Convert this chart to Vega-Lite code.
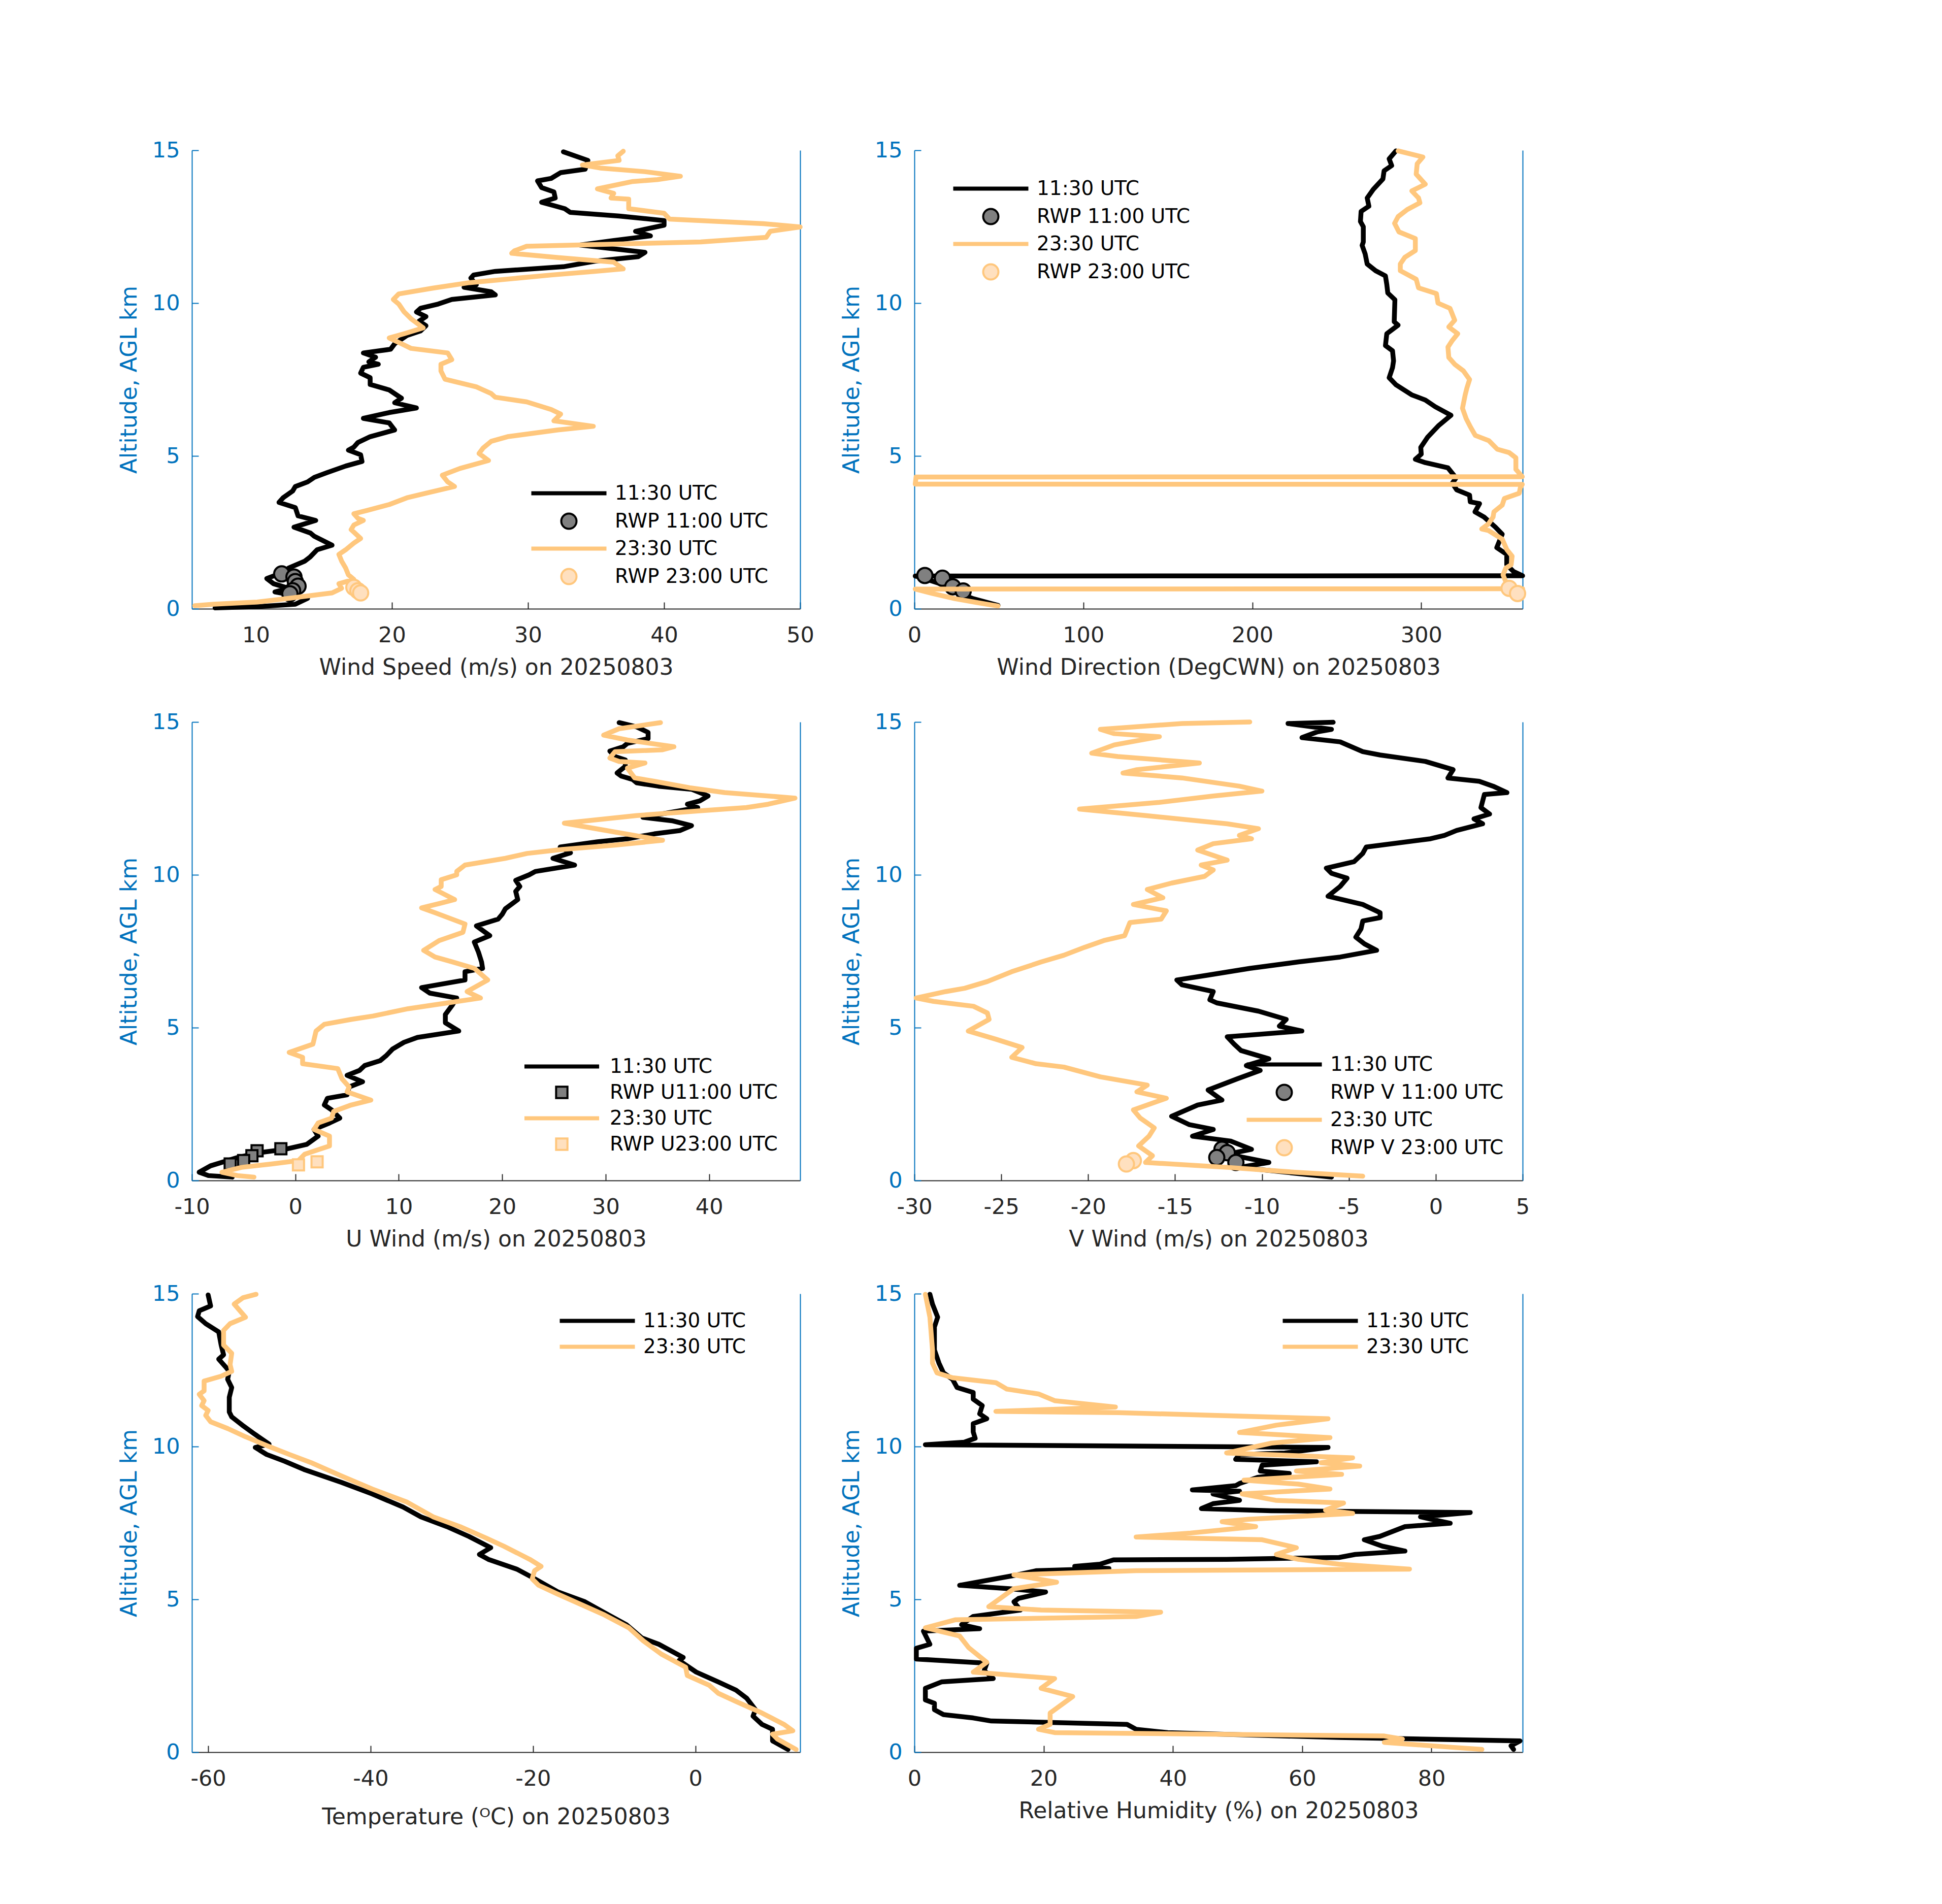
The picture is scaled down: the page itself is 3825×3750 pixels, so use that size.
{
  "$schema": "https://vega.github.io/schema/vega-lite/v6.json",
  "background": "white",
  "padding": {"left": 233, "top": 275, "right": 0, "bottom": 0},
  "config": {
    "font": "DejaVu Sans",
    "view": {"stroke": null},
    "axis": {"grid": false, "labelFont": "DejaVu Sans", "titleFont": "DejaVu Sans", "labelFontSize": 43, "titleFontSize": 44, "titleFontWeight": "normal", "tickSize": -13, "tickWidth": 2, "domainWidth": 2, "labelFlush": false, "labelOverlap": false},
    "axisX": {"domainColor": "#262626", "tickColor": "#262626", "labelColor": "#262626", "titleColor": "#262626", "labelPadding": 44, "titlePadding": 20, "labelExpr": "'' + datum.value"},
    "axisY": {"domainColor": "#0072BD", "tickColor": "#0072BD", "labelColor": "#0072BD", "titleColor": "#0072BD", "labelPadding": 37, "titlePadding": 22},
    "legend": {"labelFont": "DejaVu Sans", "labelFontSize": 39, "labelColor": "#000000", "labelLimit": 1000}
  },
  "datasets": {
    "ws": [
      {"s": "11:30 UTC", "v": 7.0, "h": 0.03}, {"s": "11:30 UTC", "v": 10.1, "h": 0.07}, {"s": "11:30 UTC", "v": 12.9, "h": 0.15}, {"s": "11:30 UTC", "v": 13.8, "h": 0.34}, {"s": "11:30 UTC", "v": 12.8, "h": 0.44}, {"s": "11:30 UTC", "v": 11.4, "h": 0.55}, {"s": "11:30 UTC", "v": 12.4, "h": 0.67}, {"s": "11:30 UTC", "v": 11.3, "h": 0.82}, {"s": "11:30 UTC", "v": 10.8, "h": 0.99}, {"s": "11:30 UTC", "v": 12.0, "h": 1.19}, {"s": "11:30 UTC", "v": 12.4, "h": 1.33}, {"s": "11:30 UTC", "v": 13.6, "h": 1.56}, {"s": "11:30 UTC", "v": 14.0, "h": 1.70}, {"s": "11:30 UTC", "v": 14.5, "h": 1.93}, {"s": "11:30 UTC", "v": 15.6, "h": 2.08}, {"s": "11:30 UTC", "v": 14.3, "h": 2.37}, {"s": "11:30 UTC", "v": 14.0, "h": 2.48}, {"s": "11:30 UTC", "v": 12.8, "h": 2.67}, {"s": "11:30 UTC", "v": 14.4, "h": 2.89}, {"s": "11:30 UTC", "v": 13.1, "h": 3.04}, {"s": "11:30 UTC", "v": 12.9, "h": 3.31}, {"s": "11:30 UTC", "v": 11.7, "h": 3.48}, {"s": "11:30 UTC", "v": 12.0, "h": 3.63}, {"s": "11:30 UTC", "v": 12.7, "h": 3.85}, {"s": "11:30 UTC", "v": 12.9, "h": 4.00}, {"s": "11:30 UTC", "v": 13.8, "h": 4.15}, {"s": "11:30 UTC", "v": 14.3, "h": 4.30}, {"s": "11:30 UTC", "v": 15.2, "h": 4.45}, {"s": "11:30 UTC", "v": 16.6, "h": 4.67}, {"s": "11:30 UTC", "v": 17.8, "h": 4.82}, {"s": "11:30 UTC", "v": 17.7, "h": 5.04}, {"s": "11:30 UTC", "v": 16.8, "h": 5.19}, {"s": "11:30 UTC", "v": 17.2, "h": 5.29}, {"s": "11:30 UTC", "v": 17.5, "h": 5.44}, {"s": "11:30 UTC", "v": 18.4, "h": 5.63}, {"s": "11:30 UTC", "v": 20.2, "h": 5.85}, {"s": "11:30 UTC", "v": 19.8, "h": 6.08}, {"s": "11:30 UTC", "v": 17.9, "h": 6.23}, {"s": "11:30 UTC", "v": 19.8, "h": 6.42}, {"s": "11:30 UTC", "v": 21.8, "h": 6.57}, {"s": "11:30 UTC", "v": 20.2, "h": 6.74}, {"s": "11:30 UTC", "v": 20.7, "h": 6.89}, {"s": "11:30 UTC", "v": 20.2, "h": 7.04}, {"s": "11:30 UTC", "v": 19.8, "h": 7.16}, {"s": "11:30 UTC", "v": 18.4, "h": 7.34}, {"s": "11:30 UTC", "v": 18.4, "h": 7.56}, {"s": "11:30 UTC", "v": 17.7, "h": 7.71}, {"s": "11:30 UTC", "v": 17.9, "h": 7.90}, {"s": "11:30 UTC", "v": 19.0, "h": 8.00}, {"s": "11:30 UTC", "v": 18.3, "h": 8.08}, {"s": "11:30 UTC", "v": 18.8, "h": 8.23}, {"s": "11:30 UTC", "v": 17.9, "h": 8.37}, {"s": "11:30 UTC", "v": 19.9, "h": 8.49}, {"s": "11:30 UTC", "v": 20.2, "h": 8.67}, {"s": "11:30 UTC", "v": 21.1, "h": 8.94}, {"s": "11:30 UTC", "v": 22.1, "h": 9.09}, {"s": "11:30 UTC", "v": 22.5, "h": 9.26}, {"s": "11:30 UTC", "v": 22.0, "h": 9.41}, {"s": "11:30 UTC", "v": 22.5, "h": 9.56}, {"s": "11:30 UTC", "v": 21.8, "h": 9.71}, {"s": "11:30 UTC", "v": 22.1, "h": 9.83}, {"s": "11:30 UTC", "v": 23.4, "h": 9.97}, {"s": "11:30 UTC", "v": 24.4, "h": 10.12}, {"s": "11:30 UTC", "v": 27.6, "h": 10.27}, {"s": "11:30 UTC", "v": 27.3, "h": 10.37}, {"s": "11:30 UTC", "v": 25.3, "h": 10.52}, {"s": "11:30 UTC", "v": 26.2, "h": 10.60}, {"s": "11:30 UTC", "v": 25.8, "h": 10.82}, {"s": "11:30 UTC", "v": 26.0, "h": 10.92}, {"s": "11:30 UTC", "v": 27.6, "h": 11.04}, {"s": "11:30 UTC", "v": 32.6, "h": 11.19}, {"s": "11:30 UTC", "v": 34.9, "h": 11.37}, {"s": "11:30 UTC", "v": 38.1, "h": 11.52}, {"s": "11:30 UTC", "v": 38.6, "h": 11.66}, {"s": "11:30 UTC", "v": 33.8, "h": 11.90}, {"s": "11:30 UTC", "v": 36.3, "h": 12.05}, {"s": "11:30 UTC", "v": 39.0, "h": 12.20}, {"s": "11:30 UTC", "v": 37.9, "h": 12.35}, {"s": "11:30 UTC", "v": 40.0, "h": 12.55}, {"s": "11:30 UTC", "v": 40.0, "h": 12.70}, {"s": "11:30 UTC", "v": 36.7, "h": 12.85}, {"s": "11:30 UTC", "v": 33.1, "h": 12.97}, {"s": "11:30 UTC", "v": 32.7, "h": 13.09}, {"s": "11:30 UTC", "v": 31.9, "h": 13.19}, {"s": "11:30 UTC", "v": 31.0, "h": 13.30}, {"s": "11:30 UTC", "v": 32.0, "h": 13.44}, {"s": "11:30 UTC", "v": 31.9, "h": 13.64}, {"s": "11:30 UTC", "v": 31.0, "h": 13.78}, {"s": "11:30 UTC", "v": 30.7, "h": 14.00}, {"s": "11:30 UTC", "v": 31.7, "h": 14.08}, {"s": "11:30 UTC", "v": 32.4, "h": 14.27}, {"s": "11:30 UTC", "v": 34.2, "h": 14.38}, {"s": "11:30 UTC", "v": 34.4, "h": 14.67}, {"s": "11:30 UTC", "v": 32.6, "h": 14.95},
      {"s": "RWP 11:00 UTC", "v": 11.9, "h": 1.14}, {"s": "RWP 11:00 UTC", "v": 12.8, "h": 1.04}, {"s": "RWP 11:00 UTC", "v": 12.9, "h": 0.89}, {"s": "RWP 11:00 UTC", "v": 13.1, "h": 0.74}, {"s": "RWP 11:00 UTC", "v": 12.7, "h": 0.59}, {"s": "RWP 11:00 UTC", "v": 12.5, "h": 0.49},
      {"s": "23:30 UTC", "v": 5.5, "h": 0.10}, {"s": "23:30 UTC", "v": 6.9, "h": 0.15}, {"s": "23:30 UTC", "v": 10.1, "h": 0.22}, {"s": "23:30 UTC", "v": 12.4, "h": 0.34}, {"s": "23:30 UTC", "v": 15.6, "h": 0.52}, {"s": "23:30 UTC", "v": 16.3, "h": 0.67}, {"s": "23:30 UTC", "v": 16.1, "h": 0.82}, {"s": "23:30 UTC", "v": 17.2, "h": 0.96}, {"s": "23:30 UTC", "v": 16.8, "h": 1.11}, {"s": "23:30 UTC", "v": 16.6, "h": 1.33}, {"s": "23:30 UTC", "v": 16.3, "h": 1.56}, {"s": "23:30 UTC", "v": 16.1, "h": 1.78}, {"s": "23:30 UTC", "v": 16.6, "h": 1.93}, {"s": "23:30 UTC", "v": 17.2, "h": 2.15}, {"s": "23:30 UTC", "v": 17.7, "h": 2.30}, {"s": "23:30 UTC", "v": 17.0, "h": 2.59}, {"s": "23:30 UTC", "v": 17.2, "h": 2.74}, {"s": "23:30 UTC", "v": 17.9, "h": 2.89}, {"s": "23:30 UTC", "v": 17.5, "h": 2.96}, {"s": "23:30 UTC", "v": 17.2, "h": 3.11}, {"s": "23:30 UTC", "v": 18.2, "h": 3.22}, {"s": "23:30 UTC", "v": 19.8, "h": 3.41}, {"s": "23:30 UTC", "v": 21.1, "h": 3.63}, {"s": "23:30 UTC", "v": 22.5, "h": 3.78}, {"s": "23:30 UTC", "v": 24.6, "h": 4.00}, {"s": "23:30 UTC", "v": 24.1, "h": 4.15}, {"s": "23:30 UTC", "v": 23.7, "h": 4.37}, {"s": "23:30 UTC", "v": 25.0, "h": 4.59}, {"s": "23:30 UTC", "v": 27.1, "h": 4.85}, {"s": "23:30 UTC", "v": 26.4, "h": 5.08}, {"s": "23:30 UTC", "v": 26.7, "h": 5.26}, {"s": "23:30 UTC", "v": 27.3, "h": 5.48}, {"s": "23:30 UTC", "v": 28.5, "h": 5.63}, {"s": "23:30 UTC", "v": 32.2, "h": 5.85}, {"s": "23:30 UTC", "v": 34.8, "h": 5.97}, {"s": "23:30 UTC", "v": 31.9, "h": 6.15}, {"s": "23:30 UTC", "v": 32.4, "h": 6.37}, {"s": "23:30 UTC", "v": 31.7, "h": 6.52}, {"s": "23:30 UTC", "v": 29.9, "h": 6.77}, {"s": "23:30 UTC", "v": 27.6, "h": 6.92}, {"s": "23:30 UTC", "v": 27.3, "h": 7.04}, {"s": "23:30 UTC", "v": 26.2, "h": 7.26}, {"s": "23:30 UTC", "v": 23.9, "h": 7.51}, {"s": "23:30 UTC", "v": 23.6, "h": 7.78}, {"s": "23:30 UTC", "v": 23.6, "h": 8.00}, {"s": "23:30 UTC", "v": 24.4, "h": 8.15}, {"s": "23:30 UTC", "v": 24.1, "h": 8.37}, {"s": "23:30 UTC", "v": 21.4, "h": 8.52}, {"s": "23:30 UTC", "v": 20.7, "h": 8.67}, {"s": "23:30 UTC", "v": 19.8, "h": 8.86}, {"s": "23:30 UTC", "v": 20.9, "h": 9.00}, {"s": "23:30 UTC", "v": 22.3, "h": 9.19}, {"s": "23:30 UTC", "v": 21.4, "h": 9.49}, {"s": "23:30 UTC", "v": 20.9, "h": 9.71}, {"s": "23:30 UTC", "v": 20.5, "h": 9.97}, {"s": "23:30 UTC", "v": 20.1, "h": 10.12}, {"s": "23:30 UTC", "v": 20.5, "h": 10.30}, {"s": "23:30 UTC", "v": 23.0, "h": 10.49}, {"s": "23:30 UTC", "v": 25.7, "h": 10.67}, {"s": "23:30 UTC", "v": 31.7, "h": 10.92}, {"s": "23:30 UTC", "v": 34.9, "h": 11.04}, {"s": "23:30 UTC", "v": 37.0, "h": 11.12}, {"s": "23:30 UTC", "v": 36.3, "h": 11.34}, {"s": "23:30 UTC", "v": 32.2, "h": 11.49}, {"s": "23:30 UTC", "v": 28.8, "h": 11.63}, {"s": "23:30 UTC", "v": 29.0, "h": 11.71}, {"s": "23:30 UTC", "v": 29.9, "h": 11.86}, {"s": "23:30 UTC", "v": 42.7, "h": 12.00}, {"s": "23:30 UTC", "v": 47.5, "h": 12.15}, {"s": "23:30 UTC", "v": 47.8, "h": 12.35}, {"s": "23:30 UTC", "v": 50.0, "h": 12.49}, {"s": "23:30 UTC", "v": 47.3, "h": 12.60}, {"s": "23:30 UTC", "v": 40.4, "h": 12.75}, {"s": "23:30 UTC", "v": 40.0, "h": 12.94}, {"s": "23:30 UTC", "v": 37.4, "h": 13.09}, {"s": "23:30 UTC", "v": 37.4, "h": 13.40}, {"s": "23:30 UTC", "v": 36.1, "h": 13.44}, {"s": "23:30 UTC", "v": 36.3, "h": 13.59}, {"s": "23:30 UTC", "v": 35.1, "h": 13.74}, {"s": "23:30 UTC", "v": 37.7, "h": 13.98}, {"s": "23:30 UTC", "v": 39.5, "h": 14.04}, {"s": "23:30 UTC", "v": 41.2, "h": 14.15}, {"s": "23:30 UTC", "v": 38.6, "h": 14.30}, {"s": "23:30 UTC", "v": 35.3, "h": 14.42}, {"s": "23:30 UTC", "v": 34.0, "h": 14.52}, {"s": "23:30 UTC", "v": 36.7, "h": 14.67}, {"s": "23:30 UTC", "v": 36.6, "h": 14.82}, {"s": "23:30 UTC", "v": 37.0, "h": 14.97},
      {"s": "RWP 23:00 UTC", "v": 17.2, "h": 0.70}, {"s": "RWP 23:00 UTC", "v": 17.5, "h": 0.59}, {"s": "RWP 23:00 UTC", "v": 17.7, "h": 0.52}
    ],
    "wd": [
      {"s": "11:30 UTC", "v": 49.5, "h": 0.11}, {"s": "11:30 UTC", "v": 34.8, "h": 0.33}, {"s": "11:30 UTC", "v": 24.0, "h": 0.56}, {"s": "11:30 UTC", "v": 14.7, "h": 0.83}, {"s": "11:30 UTC", "v": 3.0, "h": 1.04}, {"s": "11:30 UTC", "v": 0.5, "h": 1.07}, {"s": "11:30 UTC", "v": 360, "h": 1.08}, {"s": "11:30 UTC", "v": 354.6, "h": 1.22}, {"s": "11:30 UTC", "v": 350.6, "h": 1.44}, {"s": "11:30 UTC", "v": 350.6, "h": 1.78}, {"s": "11:30 UTC", "v": 344.7, "h": 2.00}, {"s": "11:30 UTC", "v": 347.9, "h": 2.44}, {"s": "11:30 UTC", "v": 343.9, "h": 2.67}, {"s": "11:30 UTC", "v": 337.2, "h": 3.00}, {"s": "11:30 UTC", "v": 331.8, "h": 3.17}, {"s": "11:30 UTC", "v": 334.5, "h": 3.44}, {"s": "11:30 UTC", "v": 329.0, "h": 3.50}, {"s": "11:30 UTC", "v": 328.6, "h": 3.72}, {"s": "11:30 UTC", "v": 321.0, "h": 3.89}, {"s": "11:30 UTC", "v": 318.4, "h": 4.11}, {"s": "11:30 UTC", "v": 320.6, "h": 4.28}, {"s": "11:30 UTC", "v": 315.8, "h": 4.61}, {"s": "11:30 UTC", "v": 302.4, "h": 4.78}, {"s": "11:30 UTC", "v": 296.5, "h": 4.89}, {"s": "11:30 UTC", "v": 300.0, "h": 5.06}, {"s": "11:30 UTC", "v": 299.7, "h": 5.28}, {"s": "11:30 UTC", "v": 303.7, "h": 5.61}, {"s": "11:30 UTC", "v": 310.4, "h": 6.00}, {"s": "11:30 UTC", "v": 317.6, "h": 6.33}, {"s": "11:30 UTC", "v": 308.3, "h": 6.61}, {"s": "11:30 UTC", "v": 302.4, "h": 6.83}, {"s": "11:30 UTC", "v": 294.3, "h": 7.00}, {"s": "11:30 UTC", "v": 285.0, "h": 7.33}, {"s": "11:30 UTC", "v": 281.0, "h": 7.56}, {"s": "11:30 UTC", "v": 283.0, "h": 7.89}, {"s": "11:30 UTC", "v": 283.6, "h": 8.11}, {"s": "11:30 UTC", "v": 283.0, "h": 8.44}, {"s": "11:30 UTC", "v": 278.8, "h": 8.61}, {"s": "11:30 UTC", "v": 279.6, "h": 9.00}, {"s": "11:30 UTC", "v": 286.3, "h": 9.28}, {"s": "11:30 UTC", "v": 284.0, "h": 9.39}, {"s": "11:30 UTC", "v": 284.4, "h": 10.11}, {"s": "11:30 UTC", "v": 280.2, "h": 10.33}, {"s": "11:30 UTC", "v": 279.6, "h": 10.61}, {"s": "11:30 UTC", "v": 278.8, "h": 10.89}, {"s": "11:30 UTC", "v": 273.0, "h": 11.06}, {"s": "11:30 UTC", "v": 268.0, "h": 11.28}, {"s": "11:30 UTC", "v": 266.8, "h": 11.61}, {"s": "11:30 UTC", "v": 265.0, "h": 11.89}, {"s": "11:30 UTC", "v": 265.7, "h": 12.00}, {"s": "11:30 UTC", "v": 265.7, "h": 12.50}, {"s": "11:30 UTC", "v": 264.0, "h": 12.67}, {"s": "11:30 UTC", "v": 264.4, "h": 13.00}, {"s": "11:30 UTC", "v": 269.0, "h": 13.17}, {"s": "11:30 UTC", "v": 268.0, "h": 13.44}, {"s": "11:30 UTC", "v": 271.6, "h": 13.72}, {"s": "11:30 UTC", "v": 277.3, "h": 14.06}, {"s": "11:30 UTC", "v": 278.0, "h": 14.33}, {"s": "11:30 UTC", "v": 282.5, "h": 14.50}, {"s": "11:30 UTC", "v": 281.0, "h": 14.72}, {"s": "11:30 UTC", "v": 285.0, "h": 14.98},
      {"s": "RWP 11:00 UTC", "v": 6.2, "h": 1.09}, {"s": "RWP 11:00 UTC", "v": 16.6, "h": 1.00}, {"s": "RWP 11:00 UTC", "v": 22.7, "h": 0.72}, {"s": "RWP 11:00 UTC", "v": 28.9, "h": 0.58},
      {"s": "23:30 UTC", "v": 49.5, "h": 0.09}, {"s": "23:30 UTC", "v": 37.5, "h": 0.20}, {"s": "23:30 UTC", "v": 24.0, "h": 0.33}, {"s": "23:30 UTC", "v": 10.7, "h": 0.50}, {"s": "23:30 UTC", "v": 0.5, "h": 0.645}, {"s": "23:30 UTC", "v": 360, "h": 0.655}, {"s": "23:30 UTC", "v": 353.2, "h": 0.72}, {"s": "23:30 UTC", "v": 350.0, "h": 0.89}, {"s": "23:30 UTC", "v": 348.4, "h": 1.11}, {"s": "23:30 UTC", "v": 350.0, "h": 1.33}, {"s": "23:30 UTC", "v": 353.2, "h": 1.44}, {"s": "23:30 UTC", "v": 353.8, "h": 1.72}, {"s": "23:30 UTC", "v": 350.6, "h": 1.94}, {"s": "23:30 UTC", "v": 347.9, "h": 2.28}, {"s": "23:30 UTC", "v": 339.8, "h": 2.56}, {"s": "23:30 UTC", "v": 335.8, "h": 2.61}, {"s": "23:30 UTC", "v": 339.8, "h": 2.78}, {"s": "23:30 UTC", "v": 342.5, "h": 3.00}, {"s": "23:30 UTC", "v": 343.0, "h": 3.17}, {"s": "23:30 UTC", "v": 347.9, "h": 3.39}, {"s": "23:30 UTC", "v": 349.2, "h": 3.61}, {"s": "23:30 UTC", "v": 358.0, "h": 3.78}, {"s": "23:30 UTC", "v": 358.6, "h": 3.95}, {"s": "23:30 UTC", "v": 359.8, "h": 4.07}, {"s": "23:30 UTC", "v": 0.5, "h": 4.08}, {"s": "23:30 UTC", "v": 1.0, "h": 4.31}, {"s": "23:30 UTC", "v": 359.8, "h": 4.32}, {"s": "23:30 UTC", "v": 356.0, "h": 4.56}, {"s": "23:30 UTC", "v": 356.0, "h": 4.94}, {"s": "23:30 UTC", "v": 352.0, "h": 5.11}, {"s": "23:30 UTC", "v": 345.0, "h": 5.22}, {"s": "23:30 UTC", "v": 340.0, "h": 5.50}, {"s": "23:30 UTC", "v": 332.0, "h": 5.67}, {"s": "23:30 UTC", "v": 329.2, "h": 5.94}, {"s": "23:30 UTC", "v": 326.6, "h": 6.22}, {"s": "23:30 UTC", "v": 324.4, "h": 6.56}, {"s": "23:30 UTC", "v": 326.0, "h": 7.00}, {"s": "23:30 UTC", "v": 327.0, "h": 7.22}, {"s": "23:30 UTC", "v": 328.6, "h": 7.50}, {"s": "23:30 UTC", "v": 325.0, "h": 7.78}, {"s": "23:30 UTC", "v": 319.8, "h": 8.00}, {"s": "23:30 UTC", "v": 316.3, "h": 8.22}, {"s": "23:30 UTC", "v": 315.8, "h": 8.56}, {"s": "23:30 UTC", "v": 318.4, "h": 8.78}, {"s": "23:30 UTC", "v": 321.6, "h": 9.00}, {"s": "23:30 UTC", "v": 316.3, "h": 9.22}, {"s": "23:30 UTC", "v": 319.8, "h": 9.44}, {"s": "23:30 UTC", "v": 317.0, "h": 9.83}, {"s": "23:30 UTC", "v": 309.9, "h": 10.00}, {"s": "23:30 UTC", "v": 309.0, "h": 10.31}, {"s": "23:30 UTC", "v": 298.4, "h": 10.50}, {"s": "23:30 UTC", "v": 297.0, "h": 10.78}, {"s": "23:30 UTC", "v": 287.6, "h": 11.06}, {"s": "23:30 UTC", "v": 287.6, "h": 11.28}, {"s": "23:30 UTC", "v": 290.3, "h": 11.50}, {"s": "23:30 UTC", "v": 296.5, "h": 11.72}, {"s": "23:30 UTC", "v": 296.5, "h": 12.11}, {"s": "23:30 UTC", "v": 286.8, "h": 12.33}, {"s": "23:30 UTC", "v": 284.2, "h": 12.61}, {"s": "23:30 UTC", "v": 286.3, "h": 12.83}, {"s": "23:30 UTC", "v": 291.7, "h": 13.06}, {"s": "23:30 UTC", "v": 299.2, "h": 13.28}, {"s": "23:30 UTC", "v": 298.4, "h": 13.44}, {"s": "23:30 UTC", "v": 294.4, "h": 13.67}, {"s": "23:30 UTC", "v": 302.4, "h": 13.89}, {"s": "23:30 UTC", "v": 297.0, "h": 14.22}, {"s": "23:30 UTC", "v": 297.6, "h": 14.56}, {"s": "23:30 UTC", "v": 301.0, "h": 14.78}, {"s": "23:30 UTC", "v": 286.3, "h": 14.98},
      {"s": "RWP 23:00 UTC", "v": 352.0, "h": 0.67}, {"s": "RWP 23:00 UTC", "v": 357.0, "h": 0.50}
    ],
    "u": [
      {"s": "11:30 UTC", "v": -6.1, "h": 0.11}, {"s": "11:30 UTC", "v": -8.4, "h": 0.16}, {"s": "11:30 UTC", "v": -9.3, "h": 0.27}, {"s": "11:30 UTC", "v": -8.2, "h": 0.48}, {"s": "11:30 UTC", "v": -5.6, "h": 0.75}, {"s": "11:30 UTC", "v": -3.5, "h": 0.91}, {"s": "11:30 UTC", "v": -1.0, "h": 1.02}, {"s": "11:30 UTC", "v": 1.1, "h": 1.18}, {"s": "11:30 UTC", "v": 2.2, "h": 1.45}, {"s": "11:30 UTC", "v": 1.8, "h": 1.67}, {"s": "11:30 UTC", "v": 3.3, "h": 1.88}, {"s": "11:30 UTC", "v": 4.3, "h": 2.04}, {"s": "11:30 UTC", "v": 3.5, "h": 2.31}, {"s": "11:30 UTC", "v": 2.8, "h": 2.47}, {"s": "11:30 UTC", "v": 3.1, "h": 2.69}, {"s": "11:30 UTC", "v": 5.0, "h": 2.80}, {"s": "11:30 UTC", "v": 5.2, "h": 3.06}, {"s": "11:30 UTC", "v": 6.5, "h": 3.23}, {"s": "11:30 UTC", "v": 5.0, "h": 3.44}, {"s": "11:30 UTC", "v": 6.2, "h": 3.60}, {"s": "11:30 UTC", "v": 6.7, "h": 3.76}, {"s": "11:30 UTC", "v": 8.2, "h": 3.92}, {"s": "11:30 UTC", "v": 8.8, "h": 4.09}, {"s": "11:30 UTC", "v": 9.4, "h": 4.30}, {"s": "11:30 UTC", "v": 10.5, "h": 4.52}, {"s": "11:30 UTC", "v": 11.8, "h": 4.68}, {"s": "11:30 UTC", "v": 15.8, "h": 4.89}, {"s": "11:30 UTC", "v": 14.5, "h": 5.16}, {"s": "11:30 UTC", "v": 14.5, "h": 5.43}, {"s": "11:30 UTC", "v": 15.2, "h": 5.75}, {"s": "11:30 UTC", "v": 15.6, "h": 5.97}, {"s": "11:30 UTC", "v": 13.0, "h": 6.13}, {"s": "11:30 UTC", "v": 12.2, "h": 6.31}, {"s": "11:30 UTC", "v": 16.4, "h": 6.56}, {"s": "11:30 UTC", "v": 16.4, "h": 6.83}, {"s": "11:30 UTC", "v": 18.1, "h": 6.94}, {"s": "11:30 UTC", "v": 18.0, "h": 7.15}, {"s": "11:30 UTC", "v": 17.7, "h": 7.47}, {"s": "11:30 UTC", "v": 17.3, "h": 7.80}, {"s": "11:30 UTC", "v": 18.8, "h": 8.01}, {"s": "11:30 UTC", "v": 17.5, "h": 8.33}, {"s": "11:30 UTC", "v": 19.6, "h": 8.55}, {"s": "11:30 UTC", "v": 20.0, "h": 8.71}, {"s": "11:30 UTC", "v": 20.3, "h": 8.89}, {"s": "11:30 UTC", "v": 21.5, "h": 9.19}, {"s": "11:30 UTC", "v": 21.3, "h": 9.46}, {"s": "11:30 UTC", "v": 21.7, "h": 9.62}, {"s": "11:30 UTC", "v": 21.3, "h": 9.82}, {"s": "11:30 UTC", "v": 22.6, "h": 10.00}, {"s": "11:30 UTC", "v": 23.2, "h": 10.11}, {"s": "11:30 UTC", "v": 27.0, "h": 10.32}, {"s": "11:30 UTC", "v": 24.9, "h": 10.54}, {"s": "11:30 UTC", "v": 26.6, "h": 10.72}, {"s": "11:30 UTC", "v": 25.6, "h": 10.91}, {"s": "11:30 UTC", "v": 29.2, "h": 11.08}, {"s": "11:30 UTC", "v": 32.1, "h": 11.18}, {"s": "11:30 UTC", "v": 34.7, "h": 11.34}, {"s": "11:30 UTC", "v": 37.2, "h": 11.45}, {"s": "11:30 UTC", "v": 38.3, "h": 11.61}, {"s": "11:30 UTC", "v": 36.4, "h": 11.77}, {"s": "11:30 UTC", "v": 33.6, "h": 11.88}, {"s": "11:30 UTC", "v": 37.2, "h": 12.10}, {"s": "11:30 UTC", "v": 38.9, "h": 12.20}, {"s": "11:30 UTC", "v": 37.9, "h": 12.31}, {"s": "11:30 UTC", "v": 39.1, "h": 12.42}, {"s": "11:30 UTC", "v": 39.9, "h": 12.58}, {"s": "11:30 UTC", "v": 38.3, "h": 12.80}, {"s": "11:30 UTC", "v": 35.1, "h": 12.90}, {"s": "11:30 UTC", "v": 33.0, "h": 13.01}, {"s": "11:30 UTC", "v": 32.6, "h": 13.12}, {"s": "11:30 UTC", "v": 31.5, "h": 13.23}, {"s": "11:30 UTC", "v": 31.1, "h": 13.33}, {"s": "11:30 UTC", "v": 31.9, "h": 13.55}, {"s": "11:30 UTC", "v": 31.9, "h": 13.76}, {"s": "11:30 UTC", "v": 30.9, "h": 13.87}, {"s": "11:30 UTC", "v": 30.4, "h": 14.05}, {"s": "11:30 UTC", "v": 31.7, "h": 14.19}, {"s": "11:30 UTC", "v": 32.1, "h": 14.30}, {"s": "11:30 UTC", "v": 34.1, "h": 14.46}, {"s": "11:30 UTC", "v": 34.1, "h": 14.66}, {"s": "11:30 UTC", "v": 33.0, "h": 14.84}, {"s": "11:30 UTC", "v": 31.3, "h": 14.98},
      {"s": "RWP U11:00 UTC", "v": -1.4, "h": 1.04}, {"s": "RWP U11:00 UTC", "v": -3.7, "h": 0.97}, {"s": "RWP U11:00 UTC", "v": -4.2, "h": 0.81}, {"s": "RWP U11:00 UTC", "v": -5.0, "h": 0.65}, {"s": "RWP U11:00 UTC", "v": -6.3, "h": 0.54},
      {"s": "23:30 UTC", "v": -4.0, "h": 0.11}, {"s": "23:30 UTC", "v": -5.6, "h": 0.16}, {"s": "23:30 UTC", "v": -7.1, "h": 0.27}, {"s": "23:30 UTC", "v": -5.2, "h": 0.43}, {"s": "23:30 UTC", "v": -2.3, "h": 0.54}, {"s": "23:30 UTC", "v": 0.3, "h": 0.65}, {"s": "23:30 UTC", "v": 0.9, "h": 0.86}, {"s": "23:30 UTC", "v": 3.3, "h": 1.13}, {"s": "23:30 UTC", "v": 3.3, "h": 1.45}, {"s": "23:30 UTC", "v": 1.8, "h": 1.67}, {"s": "23:30 UTC", "v": 2.2, "h": 1.88}, {"s": "23:30 UTC", "v": 3.5, "h": 2.04}, {"s": "23:30 UTC", "v": 3.7, "h": 2.26}, {"s": "23:30 UTC", "v": 5.4, "h": 2.47}, {"s": "23:30 UTC", "v": 7.3, "h": 2.63}, {"s": "23:30 UTC", "v": 5.0, "h": 2.90}, {"s": "23:30 UTC", "v": 5.2, "h": 3.06}, {"s": "23:30 UTC", "v": 4.5, "h": 3.33}, {"s": "23:30 UTC", "v": 4.1, "h": 3.66}, {"s": "23:30 UTC", "v": 0.7, "h": 3.82}, {"s": "23:30 UTC", "v": 0.7, "h": 4.03}, {"s": "23:30 UTC", "v": -0.6, "h": 4.19}, {"s": "23:30 UTC", "v": 1.7, "h": 4.46}, {"s": "23:30 UTC", "v": 2.0, "h": 4.89}, {"s": "23:30 UTC", "v": 2.8, "h": 5.11}, {"s": "23:30 UTC", "v": 5.4, "h": 5.27}, {"s": "23:30 UTC", "v": 7.5, "h": 5.38}, {"s": "23:30 UTC", "v": 10.9, "h": 5.62}, {"s": "23:30 UTC", "v": 14.7, "h": 5.81}, {"s": "23:30 UTC", "v": 17.9, "h": 5.97}, {"s": "23:30 UTC", "v": 16.6, "h": 6.18}, {"s": "23:30 UTC", "v": 18.6, "h": 6.56}, {"s": "23:30 UTC", "v": 17.3, "h": 6.94}, {"s": "23:30 UTC", "v": 15.2, "h": 7.15}, {"s": "23:30 UTC", "v": 13.5, "h": 7.31}, {"s": "23:30 UTC", "v": 12.4, "h": 7.53}, {"s": "23:30 UTC", "v": 13.9, "h": 7.85}, {"s": "23:30 UTC", "v": 16.2, "h": 8.12}, {"s": "23:30 UTC", "v": 16.4, "h": 8.39}, {"s": "23:30 UTC", "v": 13.5, "h": 8.76}, {"s": "23:30 UTC", "v": 12.2, "h": 8.92}, {"s": "23:30 UTC", "v": 13.9, "h": 9.06}, {"s": "23:30 UTC", "v": 15.4, "h": 9.19}, {"s": "23:30 UTC", "v": 13.5, "h": 9.52}, {"s": "23:30 UTC", "v": 14.1, "h": 9.62}, {"s": "23:30 UTC", "v": 14.1, "h": 9.84}, {"s": "23:30 UTC", "v": 15.6, "h": 10.00}, {"s": "23:30 UTC", "v": 15.6, "h": 10.11}, {"s": "23:30 UTC", "v": 16.4, "h": 10.32}, {"s": "23:30 UTC", "v": 20.3, "h": 10.54}, {"s": "23:30 UTC", "v": 22.4, "h": 10.70}, {"s": "23:30 UTC", "v": 25.8, "h": 10.83}, {"s": "23:30 UTC", "v": 30.9, "h": 10.97}, {"s": "23:30 UTC", "v": 35.5, "h": 11.13}, {"s": "23:30 UTC", "v": 30.9, "h": 11.40}, {"s": "23:30 UTC", "v": 26.0, "h": 11.69}, {"s": "23:30 UTC", "v": 33.0, "h": 11.94}, {"s": "23:30 UTC", "v": 39.4, "h": 12.10}, {"s": "23:30 UTC", "v": 43.6, "h": 12.20}, {"s": "23:30 UTC", "v": 45.7, "h": 12.31}, {"s": "23:30 UTC", "v": 48.3, "h": 12.51}, {"s": "23:30 UTC", "v": 41.5, "h": 12.69}, {"s": "23:30 UTC", "v": 38.1, "h": 12.85}, {"s": "23:30 UTC", "v": 34.7, "h": 13.06}, {"s": "23:30 UTC", "v": 32.8, "h": 13.17}, {"s": "23:30 UTC", "v": 32.1, "h": 13.49}, {"s": "23:30 UTC", "v": 33.8, "h": 13.66}, {"s": "23:30 UTC", "v": 31.3, "h": 13.71}, {"s": "23:30 UTC", "v": 30.4, "h": 13.82}, {"s": "23:30 UTC", "v": 30.9, "h": 14.03}, {"s": "23:30 UTC", "v": 35.5, "h": 14.09}, {"s": "23:30 UTC", "v": 36.6, "h": 14.19}, {"s": "23:30 UTC", "v": 32.1, "h": 14.41}, {"s": "23:30 UTC", "v": 29.8, "h": 14.57}, {"s": "23:30 UTC", "v": 31.3, "h": 14.78}, {"s": "23:30 UTC", "v": 35.3, "h": 14.98},
      {"s": "RWP U23:00 UTC", "v": 0.3, "h": 0.51}, {"s": "RWP U23:00 UTC", "v": 2.1, "h": 0.61}
    ],
    "vw": [
      {"s": "11:30 UTC", "v": -6.0, "h": 0.11}, {"s": "11:30 UTC", "v": -11.3, "h": 0.43}, {"s": "11:30 UTC", "v": -9.6, "h": 0.59}, {"s": "11:30 UTC", "v": -12.0, "h": 0.86}, {"s": "11:30 UTC", "v": -10.6, "h": 1.02}, {"s": "11:30 UTC", "v": -11.8, "h": 1.29}, {"s": "11:30 UTC", "v": -14.0, "h": 1.45}, {"s": "11:30 UTC", "v": -12.8, "h": 1.67}, {"s": "11:30 UTC", "v": -14.2, "h": 1.83}, {"s": "11:30 UTC", "v": -15.2, "h": 2.10}, {"s": "11:30 UTC", "v": -13.7, "h": 2.47}, {"s": "11:30 UTC", "v": -12.3, "h": 2.63}, {"s": "11:30 UTC", "v": -13.1, "h": 2.96}, {"s": "11:30 UTC", "v": -11.4, "h": 3.33}, {"s": "11:30 UTC", "v": -10.1, "h": 3.60}, {"s": "11:30 UTC", "v": -10.9, "h": 3.76}, {"s": "11:30 UTC", "v": -9.6, "h": 3.98}, {"s": "11:30 UTC", "v": -11.2, "h": 4.25}, {"s": "11:30 UTC", "v": -11.6, "h": 4.46}, {"s": "11:30 UTC", "v": -12.0, "h": 4.70}, {"s": "11:30 UTC", "v": -7.7, "h": 4.89}, {"s": "11:30 UTC", "v": -9.0, "h": 5.05}, {"s": "11:30 UTC", "v": -8.6, "h": 5.27}, {"s": "11:30 UTC", "v": -10.2, "h": 5.54}, {"s": "11:30 UTC", "v": -12.6, "h": 5.81}, {"s": "11:30 UTC", "v": -13.0, "h": 5.91}, {"s": "11:30 UTC", "v": -12.8, "h": 6.18}, {"s": "11:30 UTC", "v": -14.6, "h": 6.40}, {"s": "11:30 UTC", "v": -14.9, "h": 6.56}, {"s": "11:30 UTC", "v": -13.1, "h": 6.72}, {"s": "11:30 UTC", "v": -10.7, "h": 6.94}, {"s": "11:30 UTC", "v": -7.9, "h": 7.15}, {"s": "11:30 UTC", "v": -5.5, "h": 7.31}, {"s": "11:30 UTC", "v": -3.4, "h": 7.53}, {"s": "11:30 UTC", "v": -4.1, "h": 7.74}, {"s": "11:30 UTC", "v": -4.6, "h": 7.96}, {"s": "11:30 UTC", "v": -4.3, "h": 8.23}, {"s": "11:30 UTC", "v": -4.2, "h": 8.49}, {"s": "11:30 UTC", "v": -3.2, "h": 8.60}, {"s": "11:30 UTC", "v": -3.2, "h": 8.76}, {"s": "11:30 UTC", "v": -4.2, "h": 9.03}, {"s": "11:30 UTC", "v": -6.2, "h": 9.30}, {"s": "11:30 UTC", "v": -5.5, "h": 9.62}, {"s": "11:30 UTC", "v": -5.1, "h": 9.89}, {"s": "11:30 UTC", "v": -6.0, "h": 10.05}, {"s": "11:30 UTC", "v": -6.3, "h": 10.22}, {"s": "11:30 UTC", "v": -4.7, "h": 10.43}, {"s": "11:30 UTC", "v": -4.2, "h": 10.70}, {"s": "11:30 UTC", "v": -4.0, "h": 10.91}, {"s": "11:30 UTC", "v": -0.3, "h": 11.18}, {"s": "11:30 UTC", "v": 0.5, "h": 11.29}, {"s": "11:30 UTC", "v": 1.2, "h": 11.45}, {"s": "11:30 UTC", "v": 2.7, "h": 11.67}, {"s": "11:30 UTC", "v": 2.2, "h": 11.83}, {"s": "11:30 UTC", "v": 3.1, "h": 11.99}, {"s": "11:30 UTC", "v": 2.6, "h": 12.20}, {"s": "11:30 UTC", "v": 2.8, "h": 12.63}, {"s": "11:30 UTC", "v": 4.1, "h": 12.69}, {"s": "11:30 UTC", "v": 3.3, "h": 12.90}, {"s": "11:30 UTC", "v": 2.5, "h": 13.06}, {"s": "11:30 UTC", "v": 0.7, "h": 13.17}, {"s": "11:30 UTC", "v": 1.0, "h": 13.44}, {"s": "11:30 UTC", "v": -0.6, "h": 13.71}, {"s": "11:30 UTC", "v": -3.2, "h": 13.92}, {"s": "11:30 UTC", "v": -4.2, "h": 14.03}, {"s": "11:30 UTC", "v": -5.5, "h": 14.35}, {"s": "11:30 UTC", "v": -7.7, "h": 14.49}, {"s": "11:30 UTC", "v": -6.8, "h": 14.68}, {"s": "11:30 UTC", "v": -6.0, "h": 14.76}, {"s": "11:30 UTC", "v": -8.5, "h": 14.95}, {"s": "11:30 UTC", "v": -5.9, "h": 14.99},
      {"s": "RWP V 11:00 UTC", "v": -12.3, "h": 1.02}, {"s": "RWP V 11:00 UTC", "v": -12.0, "h": 0.91}, {"s": "RWP V 11:00 UTC", "v": -12.6, "h": 0.75}, {"s": "RWP V 11:00 UTC", "v": -11.5, "h": 0.59},
      {"s": "23:30 UTC", "v": -4.2, "h": 0.14}, {"s": "23:30 UTC", "v": -8.1, "h": 0.27}, {"s": "23:30 UTC", "v": -12.0, "h": 0.43}, {"s": "23:30 UTC", "v": -16.7, "h": 0.59}, {"s": "23:30 UTC", "v": -16.3, "h": 0.81}, {"s": "23:30 UTC", "v": -17.1, "h": 1.13}, {"s": "23:30 UTC", "v": -16.5, "h": 1.45}, {"s": "23:30 UTC", "v": -16.2, "h": 1.72}, {"s": "23:30 UTC", "v": -17.0, "h": 2.04}, {"s": "23:30 UTC", "v": -17.4, "h": 2.31}, {"s": "23:30 UTC", "v": -15.5, "h": 2.69}, {"s": "23:30 UTC", "v": -17.2, "h": 2.90}, {"s": "23:30 UTC", "v": -16.6, "h": 3.12}, {"s": "23:30 UTC", "v": -19.3, "h": 3.39}, {"s": "23:30 UTC", "v": -21.4, "h": 3.71}, {"s": "23:30 UTC", "v": -23.0, "h": 3.82}, {"s": "23:30 UTC", "v": -24.4, "h": 4.03}, {"s": "23:30 UTC", "v": -23.8, "h": 4.35}, {"s": "23:30 UTC", "v": -25.3, "h": 4.62}, {"s": "23:30 UTC", "v": -26.9, "h": 4.89}, {"s": "23:30 UTC", "v": -25.7, "h": 5.27}, {"s": "23:30 UTC", "v": -25.8, "h": 5.48}, {"s": "23:30 UTC", "v": -26.6, "h": 5.70}, {"s": "23:30 UTC", "v": -28.9, "h": 5.86}, {"s": "23:30 UTC", "v": -29.9, "h": 5.97}, {"s": "23:30 UTC", "v": -28.2, "h": 6.18}, {"s": "23:30 UTC", "v": -27.1, "h": 6.29}, {"s": "23:30 UTC", "v": -25.8, "h": 6.51}, {"s": "23:30 UTC", "v": -24.4, "h": 6.83}, {"s": "23:30 UTC", "v": -22.7, "h": 7.15}, {"s": "23:30 UTC", "v": -21.4, "h": 7.37}, {"s": "23:30 UTC", "v": -20.2, "h": 7.63}, {"s": "23:30 UTC", "v": -19.1, "h": 7.85}, {"s": "23:30 UTC", "v": -17.9, "h": 8.01}, {"s": "23:30 UTC", "v": -17.6, "h": 8.44}, {"s": "23:30 UTC", "v": -15.8, "h": 8.55}, {"s": "23:30 UTC", "v": -15.5, "h": 8.82}, {"s": "23:30 UTC", "v": -17.4, "h": 9.03}, {"s": "23:30 UTC", "v": -15.7, "h": 9.25}, {"s": "23:30 UTC", "v": -16.6, "h": 9.52}, {"s": "23:30 UTC", "v": -15.2, "h": 9.73}, {"s": "23:30 UTC", "v": -13.3, "h": 9.95}, {"s": "23:30 UTC", "v": -12.8, "h": 10.16}, {"s": "23:30 UTC", "v": -13.5, "h": 10.32}, {"s": "23:30 UTC", "v": -12.0, "h": 10.48}, {"s": "23:30 UTC", "v": -13.7, "h": 10.81}, {"s": "23:30 UTC", "v": -12.8, "h": 11.02}, {"s": "23:30 UTC", "v": -10.6, "h": 11.18}, {"s": "23:30 UTC", "v": -11.3, "h": 11.29}, {"s": "23:30 UTC", "v": -10.2, "h": 11.51}, {"s": "23:30 UTC", "v": -12.0, "h": 11.67}, {"s": "23:30 UTC", "v": -16.7, "h": 11.94}, {"s": "23:30 UTC", "v": -20.5, "h": 12.15}, {"s": "23:30 UTC", "v": -15.9, "h": 12.37}, {"s": "23:30 UTC", "v": -12.8, "h": 12.58}, {"s": "23:30 UTC", "v": -10.0, "h": 12.74}, {"s": "23:30 UTC", "v": -11.3, "h": 12.90}, {"s": "23:30 UTC", "v": -14.6, "h": 13.17}, {"s": "23:30 UTC", "v": -18.0, "h": 13.33}, {"s": "23:30 UTC", "v": -17.2, "h": 13.44}, {"s": "23:30 UTC", "v": -13.6, "h": 13.66}, {"s": "23:30 UTC", "v": -18.3, "h": 13.87}, {"s": "23:30 UTC", "v": -19.8, "h": 13.98}, {"s": "23:30 UTC", "v": -18.5, "h": 14.25}, {"s": "23:30 UTC", "v": -15.9, "h": 14.52}, {"s": "23:30 UTC", "v": -18.5, "h": 14.62}, {"s": "23:30 UTC", "v": -19.3, "h": 14.76}, {"s": "23:30 UTC", "v": -14.6, "h": 14.95}, {"s": "23:30 UTC", "v": -10.7, "h": 15.0},
      {"s": "RWP V 23:00 UTC", "v": -17.4, "h": 0.65}, {"s": "RWP V 23:00 UTC", "v": -17.8, "h": 0.54}
    ],
    "t": [
      {"s": "11:30 UTC", "v": 11.4, "h": 0.09}, {"s": "11:30 UTC", "v": 9.5, "h": 0.37}, {"s": "11:30 UTC", "v": 9.5, "h": 0.75}, {"s": "11:30 UTC", "v": 8.2, "h": 0.91}, {"s": "11:30 UTC", "v": 7.1, "h": 1.18}, {"s": "11:30 UTC", "v": 7.4, "h": 1.39}, {"s": "11:30 UTC", "v": 6.3, "h": 1.77}, {"s": "11:30 UTC", "v": 5.0, "h": 2.03}, {"s": "11:30 UTC", "v": 2.8, "h": 2.30}, {"s": "11:30 UTC", "v": 0.1, "h": 2.62}, {"s": "11:30 UTC", "v": -2.0, "h": 3.00}, {"s": "11:30 UTC", "v": -1.5, "h": 3.10}, {"s": "11:30 UTC", "v": -4.5, "h": 3.53}, {"s": "11:30 UTC", "v": -6.6, "h": 3.74}, {"s": "11:30 UTC", "v": -8.5, "h": 4.17}, {"s": "11:30 UTC", "v": -10.7, "h": 4.49}, {"s": "11:30 UTC", "v": -13.6, "h": 4.92}, {"s": "11:30 UTC", "v": -16.9, "h": 5.24}, {"s": "11:30 UTC", "v": -20.1, "h": 5.72}, {"s": "11:30 UTC", "v": -22.0, "h": 5.99}, {"s": "11:30 UTC", "v": -25.5, "h": 6.31}, {"s": "11:30 UTC", "v": -26.6, "h": 6.47}, {"s": "11:30 UTC", "v": -25.2, "h": 6.69}, {"s": "11:30 UTC", "v": -27.9, "h": 7.06}, {"s": "11:30 UTC", "v": -30.6, "h": 7.38}, {"s": "11:30 UTC", "v": -33.8, "h": 7.70}, {"s": "11:30 UTC", "v": -36.0, "h": 8.02}, {"s": "11:30 UTC", "v": -39.8, "h": 8.45}, {"s": "11:30 UTC", "v": -43.6, "h": 8.83}, {"s": "11:30 UTC", "v": -48.2, "h": 9.25}, {"s": "11:30 UTC", "v": -50.6, "h": 9.52}, {"s": "11:30 UTC", "v": -52.8, "h": 9.74}, {"s": "11:30 UTC", "v": -54.2, "h": 9.97}, {"s": "11:30 UTC", "v": -52.5, "h": 10.08}, {"s": "11:30 UTC", "v": -54.4, "h": 10.43}, {"s": "11:30 UTC", "v": -55.8, "h": 10.70}, {"s": "11:30 UTC", "v": -57.1, "h": 10.97}, {"s": "11:30 UTC", "v": -57.4, "h": 11.13}, {"s": "11:30 UTC", "v": -57.4, "h": 11.61}, {"s": "11:30 UTC", "v": -57.1, "h": 11.93}, {"s": "11:30 UTC", "v": -57.6, "h": 12.20}, {"s": "11:30 UTC", "v": -57.4, "h": 12.46}, {"s": "11:30 UTC", "v": -57.9, "h": 12.62}, {"s": "11:30 UTC", "v": -58.7, "h": 12.86}, {"s": "11:30 UTC", "v": -58.1, "h": 13.00}, {"s": "11:30 UTC", "v": -58.4, "h": 13.32}, {"s": "11:30 UTC", "v": -58.7, "h": 13.75}, {"s": "11:30 UTC", "v": -60.3, "h": 14.02}, {"s": "11:30 UTC", "v": -61.3, "h": 14.25}, {"s": "11:30 UTC", "v": -61.1, "h": 14.44}, {"s": "11:30 UTC", "v": -59.7, "h": 14.60}, {"s": "11:30 UTC", "v": -60.0, "h": 14.96},
      {"s": "23:30 UTC", "v": 12.4, "h": 0.09}, {"s": "23:30 UTC", "v": 10.1, "h": 0.43}, {"s": "23:30 UTC", "v": 9.5, "h": 0.59}, {"s": "23:30 UTC", "v": 12.0, "h": 0.70}, {"s": "23:30 UTC", "v": 10.9, "h": 0.91}, {"s": "23:30 UTC", "v": 8.2, "h": 1.28}, {"s": "23:30 UTC", "v": 5.0, "h": 1.66}, {"s": "23:30 UTC", "v": 2.8, "h": 1.93}, {"s": "23:30 UTC", "v": 1.7, "h": 2.19}, {"s": "23:30 UTC", "v": -1.0, "h": 2.51}, {"s": "23:30 UTC", "v": -1.2, "h": 2.78}, {"s": "23:30 UTC", "v": -4.2, "h": 3.21}, {"s": "23:30 UTC", "v": -6.4, "h": 3.64}, {"s": "23:30 UTC", "v": -8.2, "h": 4.07}, {"s": "23:30 UTC", "v": -11.2, "h": 4.49}, {"s": "23:30 UTC", "v": -13.9, "h": 4.81}, {"s": "23:30 UTC", "v": -17.1, "h": 5.19}, {"s": "23:30 UTC", "v": -19.3, "h": 5.46}, {"s": "23:30 UTC", "v": -20.1, "h": 5.67}, {"s": "23:30 UTC", "v": -19.8, "h": 5.94}, {"s": "23:30 UTC", "v": -19.0, "h": 6.08}, {"s": "23:30 UTC", "v": -20.4, "h": 6.31}, {"s": "23:30 UTC", "v": -23.6, "h": 6.74}, {"s": "23:30 UTC", "v": -25.8, "h": 7.01}, {"s": "23:30 UTC", "v": -29.0, "h": 7.38}, {"s": "23:30 UTC", "v": -32.3, "h": 7.70}, {"s": "23:30 UTC", "v": -35.5, "h": 8.18}, {"s": "23:30 UTC", "v": -39.8, "h": 8.61}, {"s": "23:30 UTC", "v": -43.6, "h": 9.04}, {"s": "23:30 UTC", "v": -47.3, "h": 9.47}, {"s": "23:30 UTC", "v": -50.0, "h": 9.74}, {"s": "23:30 UTC", "v": -52.5, "h": 10.00}, {"s": "23:30 UTC", "v": -55.4, "h": 10.32}, {"s": "23:30 UTC", "v": -57.6, "h": 10.59}, {"s": "23:30 UTC", "v": -59.7, "h": 10.81}, {"s": "23:30 UTC", "v": -60.3, "h": 11.02}, {"s": "23:30 UTC", "v": -60.0, "h": 11.18}, {"s": "23:30 UTC", "v": -60.8, "h": 11.34}, {"s": "23:30 UTC", "v": -60.5, "h": 11.50}, {"s": "23:30 UTC", "v": -61.1, "h": 11.71}, {"s": "23:30 UTC", "v": -60.5, "h": 11.82}, {"s": "23:30 UTC", "v": -60.5, "h": 12.14}, {"s": "23:30 UTC", "v": -58.4, "h": 12.30}, {"s": "23:30 UTC", "v": -57.1, "h": 12.46}, {"s": "23:30 UTC", "v": -57.3, "h": 12.68}, {"s": "23:30 UTC", "v": -57.1, "h": 13.05}, {"s": "23:30 UTC", "v": -58.1, "h": 13.32}, {"s": "23:30 UTC", "v": -58.1, "h": 13.80}, {"s": "23:30 UTC", "v": -57.3, "h": 14.02}, {"s": "23:30 UTC", "v": -55.4, "h": 14.23}, {"s": "23:30 UTC", "v": -56.8, "h": 14.66}, {"s": "23:30 UTC", "v": -55.7, "h": 14.87}, {"s": "23:30 UTC", "v": -54.1, "h": 14.98}
    ],
    "rh": [
      {"s": "11:30 UTC", "v": 92.7, "h": 0.09}, {"s": "11:30 UTC", "v": 92.3, "h": 0.21}, {"s": "11:30 UTC", "v": 93.7, "h": 0.37}, {"s": "11:30 UTC", "v": 65.7, "h": 0.48}, {"s": "11:30 UTC", "v": 39.2, "h": 0.64}, {"s": "11:30 UTC", "v": 34.3, "h": 0.75}, {"s": "11:30 UTC", "v": 32.9, "h": 0.91}, {"s": "11:30 UTC", "v": 11.9, "h": 1.02}, {"s": "11:30 UTC", "v": 9.1, "h": 1.12}, {"s": "11:30 UTC", "v": 4.5, "h": 1.23}, {"s": "11:30 UTC", "v": 3.1, "h": 1.39}, {"s": "11:30 UTC", "v": 3.1, "h": 1.60}, {"s": "11:30 UTC", "v": 1.7, "h": 1.71}, {"s": "11:30 UTC", "v": 1.7, "h": 2.09}, {"s": "11:30 UTC", "v": 4.2, "h": 2.30}, {"s": "11:30 UTC", "v": 12.2, "h": 2.41}, {"s": "11:30 UTC", "v": 10.8, "h": 2.67}, {"s": "11:30 UTC", "v": 11.2, "h": 2.91}, {"s": "11:30 UTC", "v": 0.3, "h": 3.05}, {"s": "11:30 UTC", "v": 0.3, "h": 3.40}, {"s": "11:30 UTC", "v": 2.4, "h": 3.53}, {"s": "11:30 UTC", "v": 1.4, "h": 3.96}, {"s": "11:30 UTC", "v": 10.1, "h": 4.04}, {"s": "11:30 UTC", "v": 7.3, "h": 4.17}, {"s": "11:30 UTC", "v": 9.1, "h": 4.44}, {"s": "11:30 UTC", "v": 16.4, "h": 4.65}, {"s": "11:30 UTC", "v": 15.4, "h": 4.92}, {"s": "11:30 UTC", "v": 16.1, "h": 5.03}, {"s": "11:30 UTC", "v": 20.3, "h": 5.24}, {"s": "11:30 UTC", "v": 14.7, "h": 5.35}, {"s": "11:30 UTC", "v": 7.0, "h": 5.46}, {"s": "11:30 UTC", "v": 15.4, "h": 5.78}, {"s": "11:30 UTC", "v": 18.9, "h": 5.94}, {"s": "11:30 UTC", "v": 30.1, "h": 6.01}, {"s": "11:30 UTC", "v": 24.8, "h": 6.08}, {"s": "11:30 UTC", "v": 28.7, "h": 6.15}, {"s": "11:30 UTC", "v": 30.8, "h": 6.29}, {"s": "11:30 UTC", "v": 48.3, "h": 6.31}, {"s": "11:30 UTC", "v": 65.7, "h": 6.37}, {"s": "11:30 UTC", "v": 68.2, "h": 6.47}, {"s": "11:30 UTC", "v": 75.9, "h": 6.58}, {"s": "11:30 UTC", "v": 72.4, "h": 6.74}, {"s": "11:30 UTC", "v": 69.6, "h": 6.95}, {"s": "11:30 UTC", "v": 72.0, "h": 7.06}, {"s": "11:30 UTC", "v": 75.9, "h": 7.38}, {"s": "11:30 UTC", "v": 82.9, "h": 7.49}, {"s": "11:30 UTC", "v": 80.4, "h": 7.60}, {"s": "11:30 UTC", "v": 78.3, "h": 7.70}, {"s": "11:30 UTC", "v": 86.0, "h": 7.84}, {"s": "11:30 UTC", "v": 55.2, "h": 7.90}, {"s": "11:30 UTC", "v": 44.4, "h": 7.97}, {"s": "11:30 UTC", "v": 46.2, "h": 8.13}, {"s": "11:30 UTC", "v": 50.3, "h": 8.24}, {"s": "11:30 UTC", "v": 46.2, "h": 8.45}, {"s": "11:30 UTC", "v": 50.3, "h": 8.54}, {"s": "11:30 UTC", "v": 43.0, "h": 8.58}, {"s": "11:30 UTC", "v": 49.7, "h": 8.72}, {"s": "11:30 UTC", "v": 50.3, "h": 8.79}, {"s": "11:30 UTC", "v": 53.1, "h": 8.99}, {"s": "11:30 UTC", "v": 58.0, "h": 9.12}, {"s": "11:30 UTC", "v": 53.5, "h": 9.20}, {"s": "11:30 UTC", "v": 53.8, "h": 9.39}, {"s": "11:30 UTC", "v": 62.2, "h": 9.50}, {"s": "11:30 UTC", "v": 49.7, "h": 9.58}, {"s": "11:30 UTC", "v": 50.3, "h": 9.74}, {"s": "11:30 UTC", "v": 57.3, "h": 9.79}, {"s": "11:30 UTC", "v": 64.0, "h": 9.97}, {"s": "11:30 UTC", "v": 1.7, "h": 10.06}, {"s": "11:30 UTC", "v": 7.7, "h": 10.14}, {"s": "11:30 UTC", "v": 9.4, "h": 10.27}, {"s": "11:30 UTC", "v": 9.1, "h": 10.48}, {"s": "11:30 UTC", "v": 9.1, "h": 10.75}, {"s": "11:30 UTC", "v": 11.2, "h": 10.91}, {"s": "11:30 UTC", "v": 10.1, "h": 11.07}, {"s": "11:30 UTC", "v": 10.5, "h": 11.34}, {"s": "11:30 UTC", "v": 9.1, "h": 11.55}, {"s": "11:30 UTC", "v": 9.1, "h": 11.77}, {"s": "11:30 UTC", "v": 6.6, "h": 11.93}, {"s": "11:30 UTC", "v": 5.9, "h": 12.20}, {"s": "11:30 UTC", "v": 4.5, "h": 12.41}, {"s": "11:30 UTC", "v": 3.8, "h": 12.73}, {"s": "11:30 UTC", "v": 3.1, "h": 13.16}, {"s": "11:30 UTC", "v": 3.1, "h": 13.91}, {"s": "11:30 UTC", "v": 3.6, "h": 14.23}, {"s": "11:30 UTC", "v": 2.8, "h": 14.66}, {"s": "11:30 UTC", "v": 2.4, "h": 14.98},
      {"s": "23:30 UTC", "v": 87.8, "h": 0.09}, {"s": "23:30 UTC", "v": 83.2, "h": 0.16}, {"s": "23:30 UTC", "v": 72.7, "h": 0.32}, {"s": "23:30 UTC", "v": 75.5, "h": 0.43}, {"s": "23:30 UTC", "v": 72.7, "h": 0.53}, {"s": "23:30 UTC", "v": 21.7, "h": 0.64}, {"s": "23:30 UTC", "v": 19.2, "h": 0.75}, {"s": "23:30 UTC", "v": 21.0, "h": 0.91}, {"s": "23:30 UTC", "v": 21.0, "h": 1.28}, {"s": "23:30 UTC", "v": 24.5, "h": 1.82}, {"s": "23:30 UTC", "v": 19.6, "h": 2.09}, {"s": "23:30 UTC", "v": 21.7, "h": 2.41}, {"s": "23:30 UTC", "v": 9.1, "h": 2.62}, {"s": "23:30 UTC", "v": 11.2, "h": 2.94}, {"s": "23:30 UTC", "v": 8.4, "h": 3.42}, {"s": "23:30 UTC", "v": 7.0, "h": 3.80}, {"s": "23:30 UTC", "v": 1.7, "h": 4.07}, {"s": "23:30 UTC", "v": 6.3, "h": 4.33}, {"s": "23:30 UTC", "v": 34.3, "h": 4.44}, {"s": "23:30 UTC", "v": 38.1, "h": 4.58}, {"s": "23:30 UTC", "v": 19.6, "h": 4.65}, {"s": "23:30 UTC", "v": 11.5, "h": 4.76}, {"s": "23:30 UTC", "v": 15.4, "h": 5.35}, {"s": "23:30 UTC", "v": 22.0, "h": 5.56}, {"s": "23:30 UTC", "v": 15.4, "h": 5.80}, {"s": "23:30 UTC", "v": 34.3, "h": 5.94}, {"s": "23:30 UTC", "v": 76.6, "h": 5.99}, {"s": "23:30 UTC", "v": 65.7, "h": 6.15}, {"s": "23:30 UTC", "v": 59.4, "h": 6.31}, {"s": "23:30 UTC", "v": 56.0, "h": 6.47}, {"s": "23:30 UTC", "v": 59.1, "h": 6.69}, {"s": "23:30 UTC", "v": 53.8, "h": 6.95}, {"s": "23:30 UTC", "v": 34.3, "h": 7.04}, {"s": "23:30 UTC", "v": 42.7, "h": 7.17}, {"s": "23:30 UTC", "v": 52.8, "h": 7.38}, {"s": "23:30 UTC", "v": 47.6, "h": 7.54}, {"s": "23:30 UTC", "v": 51.7, "h": 7.62}, {"s": "23:30 UTC", "v": 67.8, "h": 7.81}, {"s": "23:30 UTC", "v": 63.6, "h": 7.92}, {"s": "23:30 UTC", "v": 66.4, "h": 8.15}, {"s": "23:30 UTC", "v": 55.9, "h": 8.24}, {"s": "23:30 UTC", "v": 50.7, "h": 8.45}, {"s": "23:30 UTC", "v": 64.3, "h": 8.61}, {"s": "23:30 UTC", "v": 59.4, "h": 8.77}, {"s": "23:30 UTC", "v": 51.0, "h": 8.90}, {"s": "23:30 UTC", "v": 66.1, "h": 9.09}, {"s": "23:30 UTC", "v": 59.1, "h": 9.20}, {"s": "23:30 UTC", "v": 68.9, "h": 9.36}, {"s": "23:30 UTC", "v": 62.9, "h": 9.47}, {"s": "23:30 UTC", "v": 67.8, "h": 9.63}, {"s": "23:30 UTC", "v": 48.3, "h": 9.79}, {"s": "23:30 UTC", "v": 55.2, "h": 10.11}, {"s": "23:30 UTC", "v": 64.3, "h": 10.29}, {"s": "23:30 UTC", "v": 50.3, "h": 10.46}, {"s": "23:30 UTC", "v": 56.0, "h": 10.70}, {"s": "23:30 UTC", "v": 64.0, "h": 10.91}, {"s": "23:30 UTC", "v": 31.5, "h": 11.11}, {"s": "23:30 UTC", "v": 12.6, "h": 11.15}, {"s": "23:30 UTC", "v": 31.1, "h": 11.29}, {"s": "23:30 UTC", "v": 21.7, "h": 11.50}, {"s": "23:30 UTC", "v": 19.2, "h": 11.72}, {"s": "23:30 UTC", "v": 14.3, "h": 11.88}, {"s": "23:30 UTC", "v": 12.6, "h": 12.09}, {"s": "23:30 UTC", "v": 5.9, "h": 12.25}, {"s": "23:30 UTC", "v": 3.5, "h": 12.41}, {"s": "23:30 UTC", "v": 2.8, "h": 12.73}, {"s": "23:30 UTC", "v": 2.8, "h": 13.16}, {"s": "23:30 UTC", "v": 2.4, "h": 14.23}, {"s": "23:30 UTC", "v": 1.7, "h": 14.98}
    ]
  },
  "columns": 2,
  "spacing": {"row": 223, "column": 225},
  "bounds": "flush",
  "resolve": {"scale": {"stroke": "independent", "fill": "independent", "shape": "independent"}},
  "concat": [
    {
      "width": 1198, "height": 903,
      "data": {"name": "ws"},
      "resolve": {"axis": {"y": "independent"}},
      "layer": [
        {"transform": [{"filter": "datum.s == '11:30 UTC'"}], "mark": {"type": "line", "strokeWidth": 9.5, "strokeJoin": "round", "strokeCap": "round"},
         "encoding": {"x": {"field": "v", "type": "quantitative", "scale": {"domain": [5.3, 50], "nice": false, "zero": false}, "axis": {"values": [10, 20, 30, 40, 50], "title": "Wind Speed (m/s) on 20250803"}}, "y": {"field": "h", "type": "quantitative", "scale": {"domain": [0, 15], "nice": false, "zero": false}, "axis": {"values": [0, 5, 10, 15], "title": "Altitude, AGL km"}}, "order": {"field": "h", "type": "quantitative"},
          "stroke": {"field": "s", "type": "nominal", "scale": {"domain": ["11:30 UTC", "RWP 11:00 UTC", "23:30 UTC", "RWP 23:00 UTC"], "range": ["#000000", "#000000", "#FFC77D", "#FFC77D"]}, "legend": {"title": null, "orient": "none", "legendX": 723, "legendY": 656, "padding": 0, "labelOffset": 71, "rowPadding": 11, "symbolSize": 900, "symbolStrokeWidth": 4}}}},
        {"transform": [{"filter": "datum.s == 'RWP 11:00 UTC'"}], "mark": {"type": "point", "filled": true, "opacity": 1, "size": 900, "strokeWidth": 4},
         "encoding": {"x": {"field": "v", "type": "quantitative", "scale": {"domain": [5.3, 50], "nice": false, "zero": false}, "axis": {"values": [10, 20, 30, 40, 50], "title": "Wind Speed (m/s) on 20250803"}}, "y": {"field": "h", "type": "quantitative", "scale": {"domain": [0, 15], "nice": false, "zero": false}, "axis": null},
          "stroke": {"field": "s", "type": "nominal", "scale": {"domain": ["11:30 UTC", "RWP 11:00 UTC", "23:30 UTC", "RWP 23:00 UTC"], "range": ["#000000", "#000000", "#FFC77D", "#FFC77D"]}, "legend": {"title": null, "orient": "none", "legendX": 723, "legendY": 656, "padding": 0, "labelOffset": 71, "rowPadding": 11, "symbolSize": 900, "symbolStrokeWidth": 4}},
          "fill": {"field": "s", "type": "nominal", "scale": {"domain": ["11:30 UTC", "RWP 11:00 UTC", "23:30 UTC", "RWP 23:00 UTC"], "range": ["#000000", "#808080", "#FFC77D", "#FFE0BF"]}, "legend": {"title": null, "orient": "none", "legendX": 723, "legendY": 656, "padding": 0, "labelOffset": 71, "rowPadding": 11, "symbolSize": 900, "symbolStrokeWidth": 4}},
          "shape": {"field": "s", "type": "nominal", "scale": {"domain": ["11:30 UTC", "RWP 11:00 UTC", "23:30 UTC", "RWP 23:00 UTC"], "range": ["M-4.8,-0.13H4.8V0.13H-4.8Z", "circle", "M-4.8,-0.13H4.8V0.13H-4.8Z", "circle"]}, "legend": {"title": null, "orient": "none", "legendX": 723, "legendY": 656, "padding": 0, "labelOffset": 71, "rowPadding": 11, "symbolSize": 900, "symbolStrokeWidth": 4}}}},
        {"transform": [{"filter": "datum.s == '23:30 UTC'"}], "mark": {"type": "line", "strokeWidth": 9.5, "strokeJoin": "round", "strokeCap": "round"},
         "encoding": {"x": {"field": "v", "type": "quantitative", "scale": {"domain": [5.3, 50], "nice": false, "zero": false}, "axis": {"values": [10, 20, 30, 40, 50], "title": "Wind Speed (m/s) on 20250803"}}, "y": {"field": "h", "type": "quantitative", "scale": {"domain": [0, 15], "nice": false, "zero": false}, "axis": {"orient": "right", "labels": false, "ticks": false, "title": null}}, "order": {"field": "h", "type": "quantitative"},
          "stroke": {"field": "s", "type": "nominal", "scale": {"domain": ["11:30 UTC", "RWP 11:00 UTC", "23:30 UTC", "RWP 23:00 UTC"], "range": ["#000000", "#000000", "#FFC77D", "#FFC77D"]}, "legend": {"title": null, "orient": "none", "legendX": 723, "legendY": 656, "padding": 0, "labelOffset": 71, "rowPadding": 11, "symbolSize": 900, "symbolStrokeWidth": 4}}}},
        {"transform": [{"filter": "datum.s == 'RWP 23:00 UTC'"}], "mark": {"type": "point", "filled": true, "opacity": 1, "size": 900, "strokeWidth": 4},
         "encoding": {"x": {"field": "v", "type": "quantitative", "scale": {"domain": [5.3, 50], "nice": false, "zero": false}, "axis": {"values": [10, 20, 30, 40, 50], "title": "Wind Speed (m/s) on 20250803"}}, "y": {"field": "h", "type": "quantitative", "scale": {"domain": [0, 15], "nice": false, "zero": false}, "axis": null},
          "stroke": {"field": "s", "type": "nominal", "scale": {"domain": ["11:30 UTC", "RWP 11:00 UTC", "23:30 UTC", "RWP 23:00 UTC"], "range": ["#000000", "#000000", "#FFC77D", "#FFC77D"]}, "legend": {"title": null, "orient": "none", "legendX": 723, "legendY": 656, "padding": 0, "labelOffset": 71, "rowPadding": 11, "symbolSize": 900, "symbolStrokeWidth": 4}},
          "fill": {"field": "s", "type": "nominal", "scale": {"domain": ["11:30 UTC", "RWP 11:00 UTC", "23:30 UTC", "RWP 23:00 UTC"], "range": ["#000000", "#808080", "#FFC77D", "#FFE0BF"]}, "legend": {"title": null, "orient": "none", "legendX": 723, "legendY": 656, "padding": 0, "labelOffset": 71, "rowPadding": 11, "symbolSize": 900, "symbolStrokeWidth": 4}},
          "shape": {"field": "s", "type": "nominal", "scale": {"domain": ["11:30 UTC", "RWP 11:00 UTC", "23:30 UTC", "RWP 23:00 UTC"], "range": ["M-4.8,-0.13H4.8V0.13H-4.8Z", "circle", "M-4.8,-0.13H4.8V0.13H-4.8Z", "circle"]}, "legend": {"title": null, "orient": "none", "legendX": 723, "legendY": 656, "padding": 0, "labelOffset": 71, "rowPadding": 11, "symbolSize": 900, "symbolStrokeWidth": 4}}}}
      ]
    },
    {
      "width": 1198, "height": 903,
      "data": {"name": "wd"},
      "resolve": {"axis": {"y": "independent"}},
      "layer": [
        {"transform": [{"filter": "datum.s == '11:30 UTC'"}], "mark": {"type": "line", "strokeWidth": 9.5, "strokeJoin": "round", "strokeCap": "round"},
         "encoding": {"x": {"field": "v", "type": "quantitative", "scale": {"domain": [0, 360], "nice": false, "zero": false}, "axis": {"values": [0, 100, 200, 300], "title": "Wind Direction (DegCWN) on 20250803"}}, "y": {"field": "h", "type": "quantitative", "scale": {"domain": [0, 15], "nice": false, "zero": false}, "axis": {"values": [0, 5, 10, 15], "title": "Altitude, AGL km"}}, "order": {"field": "h", "type": "quantitative"},
          "stroke": {"field": "s", "type": "nominal", "scale": {"domain": ["11:30 UTC", "RWP 11:00 UTC", "23:30 UTC", "RWP 23:00 UTC"], "range": ["#000000", "#000000", "#FFC77D", "#FFC77D"]}, "legend": {"title": null, "orient": "none", "legendX": 131, "legendY": 56, "padding": 0, "labelOffset": 71, "rowPadding": 11, "symbolSize": 900, "symbolStrokeWidth": 4}}}},
        {"transform": [{"filter": "datum.s == 'RWP 11:00 UTC'"}], "mark": {"type": "point", "filled": true, "opacity": 1, "size": 900, "strokeWidth": 4},
         "encoding": {"x": {"field": "v", "type": "quantitative", "scale": {"domain": [0, 360], "nice": false, "zero": false}, "axis": {"values": [0, 100, 200, 300], "title": "Wind Direction (DegCWN) on 20250803"}}, "y": {"field": "h", "type": "quantitative", "scale": {"domain": [0, 15], "nice": false, "zero": false}, "axis": null},
          "stroke": {"field": "s", "type": "nominal", "scale": {"domain": ["11:30 UTC", "RWP 11:00 UTC", "23:30 UTC", "RWP 23:00 UTC"], "range": ["#000000", "#000000", "#FFC77D", "#FFC77D"]}, "legend": {"title": null, "orient": "none", "legendX": 131, "legendY": 56, "padding": 0, "labelOffset": 71, "rowPadding": 11, "symbolSize": 900, "symbolStrokeWidth": 4}},
          "fill": {"field": "s", "type": "nominal", "scale": {"domain": ["11:30 UTC", "RWP 11:00 UTC", "23:30 UTC", "RWP 23:00 UTC"], "range": ["#000000", "#808080", "#FFC77D", "#FFE0BF"]}, "legend": {"title": null, "orient": "none", "legendX": 131, "legendY": 56, "padding": 0, "labelOffset": 71, "rowPadding": 11, "symbolSize": 900, "symbolStrokeWidth": 4}},
          "shape": {"field": "s", "type": "nominal", "scale": {"domain": ["11:30 UTC", "RWP 11:00 UTC", "23:30 UTC", "RWP 23:00 UTC"], "range": ["M-4.8,-0.13H4.8V0.13H-4.8Z", "circle", "M-4.8,-0.13H4.8V0.13H-4.8Z", "circle"]}, "legend": {"title": null, "orient": "none", "legendX": 131, "legendY": 56, "padding": 0, "labelOffset": 71, "rowPadding": 11, "symbolSize": 900, "symbolStrokeWidth": 4}}}},
        {"transform": [{"filter": "datum.s == '23:30 UTC'"}], "mark": {"type": "line", "strokeWidth": 9.5, "strokeJoin": "round", "strokeCap": "round"},
         "encoding": {"x": {"field": "v", "type": "quantitative", "scale": {"domain": [0, 360], "nice": false, "zero": false}, "axis": {"values": [0, 100, 200, 300], "title": "Wind Direction (DegCWN) on 20250803"}}, "y": {"field": "h", "type": "quantitative", "scale": {"domain": [0, 15], "nice": false, "zero": false}, "axis": {"orient": "right", "labels": false, "ticks": false, "title": null}}, "order": {"field": "h", "type": "quantitative"},
          "stroke": {"field": "s", "type": "nominal", "scale": {"domain": ["11:30 UTC", "RWP 11:00 UTC", "23:30 UTC", "RWP 23:00 UTC"], "range": ["#000000", "#000000", "#FFC77D", "#FFC77D"]}, "legend": {"title": null, "orient": "none", "legendX": 131, "legendY": 56, "padding": 0, "labelOffset": 71, "rowPadding": 11, "symbolSize": 900, "symbolStrokeWidth": 4}}}},
        {"transform": [{"filter": "datum.s == 'RWP 23:00 UTC'"}], "mark": {"type": "point", "filled": true, "opacity": 1, "size": 900, "strokeWidth": 4},
         "encoding": {"x": {"field": "v", "type": "quantitative", "scale": {"domain": [0, 360], "nice": false, "zero": false}, "axis": {"values": [0, 100, 200, 300], "title": "Wind Direction (DegCWN) on 20250803"}}, "y": {"field": "h", "type": "quantitative", "scale": {"domain": [0, 15], "nice": false, "zero": false}, "axis": null},
          "stroke": {"field": "s", "type": "nominal", "scale": {"domain": ["11:30 UTC", "RWP 11:00 UTC", "23:30 UTC", "RWP 23:00 UTC"], "range": ["#000000", "#000000", "#FFC77D", "#FFC77D"]}, "legend": {"title": null, "orient": "none", "legendX": 131, "legendY": 56, "padding": 0, "labelOffset": 71, "rowPadding": 11, "symbolSize": 900, "symbolStrokeWidth": 4}},
          "fill": {"field": "s", "type": "nominal", "scale": {"domain": ["11:30 UTC", "RWP 11:00 UTC", "23:30 UTC", "RWP 23:00 UTC"], "range": ["#000000", "#808080", "#FFC77D", "#FFE0BF"]}, "legend": {"title": null, "orient": "none", "legendX": 131, "legendY": 56, "padding": 0, "labelOffset": 71, "rowPadding": 11, "symbolSize": 900, "symbolStrokeWidth": 4}},
          "shape": {"field": "s", "type": "nominal", "scale": {"domain": ["11:30 UTC", "RWP 11:00 UTC", "23:30 UTC", "RWP 23:00 UTC"], "range": ["M-4.8,-0.13H4.8V0.13H-4.8Z", "circle", "M-4.8,-0.13H4.8V0.13H-4.8Z", "circle"]}, "legend": {"title": null, "orient": "none", "legendX": 131, "legendY": 56, "padding": 0, "labelOffset": 71, "rowPadding": 11, "symbolSize": 900, "symbolStrokeWidth": 4}}}}
      ]
    },
    {
      "width": 1198, "height": 903,
      "data": {"name": "u"},
      "resolve": {"axis": {"y": "independent"}},
      "layer": [
        {"transform": [{"filter": "datum.s == '11:30 UTC'"}], "mark": {"type": "line", "strokeWidth": 9.5, "strokeJoin": "round", "strokeCap": "round"},
         "encoding": {"x": {"field": "v", "type": "quantitative", "scale": {"domain": [-10, 48.8], "nice": false, "zero": false}, "axis": {"values": [-10, 0, 10, 20, 30, 40], "title": "U Wind (m/s) on 20250803"}}, "y": {"field": "h", "type": "quantitative", "scale": {"domain": [0, 15], "nice": false, "zero": false}, "axis": {"values": [0, 5, 10, 15], "title": "Altitude, AGL km"}}, "order": {"field": "h", "type": "quantitative"},
          "stroke": {"field": "s", "type": "nominal", "scale": {"domain": ["11:30 UTC", "RWP U11:00 UTC", "23:30 UTC", "RWP U23:00 UTC"], "range": ["#000000", "#000000", "#FFC77D", "#FFC77D"]}, "legend": {"title": null, "orient": "none", "legendX": 709, "legendY": 659, "padding": 0, "labelOffset": 75, "rowPadding": 11, "symbolSize": 500, "symbolStrokeWidth": 4}}}},
        {"transform": [{"filter": "datum.s == 'RWP U11:00 UTC'"}], "mark": {"type": "point", "filled": true, "opacity": 1, "size": 484, "strokeWidth": 4},
         "encoding": {"x": {"field": "v", "type": "quantitative", "scale": {"domain": [-10, 48.8], "nice": false, "zero": false}, "axis": {"values": [-10, 0, 10, 20, 30, 40], "title": "U Wind (m/s) on 20250803"}}, "y": {"field": "h", "type": "quantitative", "scale": {"domain": [0, 15], "nice": false, "zero": false}, "axis": null},
          "stroke": {"field": "s", "type": "nominal", "scale": {"domain": ["11:30 UTC", "RWP U11:00 UTC", "23:30 UTC", "RWP U23:00 UTC"], "range": ["#000000", "#000000", "#FFC77D", "#FFC77D"]}, "legend": {"title": null, "orient": "none", "legendX": 709, "legendY": 659, "padding": 0, "labelOffset": 75, "rowPadding": 11, "symbolSize": 500, "symbolStrokeWidth": 4}},
          "fill": {"field": "s", "type": "nominal", "scale": {"domain": ["11:30 UTC", "RWP U11:00 UTC", "23:30 UTC", "RWP U23:00 UTC"], "range": ["#000000", "#808080", "#FFC77D", "#FFE0BF"]}, "legend": {"title": null, "orient": "none", "legendX": 709, "legendY": 659, "padding": 0, "labelOffset": 75, "rowPadding": 11, "symbolSize": 500, "symbolStrokeWidth": 4}},
          "shape": {"field": "s", "type": "nominal", "scale": {"domain": ["11:30 UTC", "RWP U11:00 UTC", "23:30 UTC", "RWP U23:00 UTC"], "range": ["M-6.4,-0.17H6.4V0.17H-6.4Z", "square", "M-6.4,-0.17H6.4V0.17H-6.4Z", "square"]}, "legend": {"title": null, "orient": "none", "legendX": 709, "legendY": 659, "padding": 0, "labelOffset": 75, "rowPadding": 11, "symbolSize": 500, "symbolStrokeWidth": 4}}}},
        {"transform": [{"filter": "datum.s == '23:30 UTC'"}], "mark": {"type": "line", "strokeWidth": 9.5, "strokeJoin": "round", "strokeCap": "round"},
         "encoding": {"x": {"field": "v", "type": "quantitative", "scale": {"domain": [-10, 48.8], "nice": false, "zero": false}, "axis": {"values": [-10, 0, 10, 20, 30, 40], "title": "U Wind (m/s) on 20250803"}}, "y": {"field": "h", "type": "quantitative", "scale": {"domain": [0, 15], "nice": false, "zero": false}, "axis": {"orient": "right", "labels": false, "ticks": false, "title": null}}, "order": {"field": "h", "type": "quantitative"},
          "stroke": {"field": "s", "type": "nominal", "scale": {"domain": ["11:30 UTC", "RWP U11:00 UTC", "23:30 UTC", "RWP U23:00 UTC"], "range": ["#000000", "#000000", "#FFC77D", "#FFC77D"]}, "legend": {"title": null, "orient": "none", "legendX": 709, "legendY": 659, "padding": 0, "labelOffset": 75, "rowPadding": 11, "symbolSize": 500, "symbolStrokeWidth": 4}}}},
        {"transform": [{"filter": "datum.s == 'RWP U23:00 UTC'"}], "mark": {"type": "point", "filled": true, "opacity": 1, "size": 484, "strokeWidth": 4},
         "encoding": {"x": {"field": "v", "type": "quantitative", "scale": {"domain": [-10, 48.8], "nice": false, "zero": false}, "axis": {"values": [-10, 0, 10, 20, 30, 40], "title": "U Wind (m/s) on 20250803"}}, "y": {"field": "h", "type": "quantitative", "scale": {"domain": [0, 15], "nice": false, "zero": false}, "axis": null},
          "stroke": {"field": "s", "type": "nominal", "scale": {"domain": ["11:30 UTC", "RWP U11:00 UTC", "23:30 UTC", "RWP U23:00 UTC"], "range": ["#000000", "#000000", "#FFC77D", "#FFC77D"]}, "legend": {"title": null, "orient": "none", "legendX": 709, "legendY": 659, "padding": 0, "labelOffset": 75, "rowPadding": 11, "symbolSize": 500, "symbolStrokeWidth": 4}},
          "fill": {"field": "s", "type": "nominal", "scale": {"domain": ["11:30 UTC", "RWP U11:00 UTC", "23:30 UTC", "RWP U23:00 UTC"], "range": ["#000000", "#808080", "#FFC77D", "#FFE0BF"]}, "legend": {"title": null, "orient": "none", "legendX": 709, "legendY": 659, "padding": 0, "labelOffset": 75, "rowPadding": 11, "symbolSize": 500, "symbolStrokeWidth": 4}},
          "shape": {"field": "s", "type": "nominal", "scale": {"domain": ["11:30 UTC", "RWP U11:00 UTC", "23:30 UTC", "RWP U23:00 UTC"], "range": ["M-6.4,-0.17H6.4V0.17H-6.4Z", "square", "M-6.4,-0.17H6.4V0.17H-6.4Z", "square"]}, "legend": {"title": null, "orient": "none", "legendX": 709, "legendY": 659, "padding": 0, "labelOffset": 75, "rowPadding": 11, "symbolSize": 500, "symbolStrokeWidth": 4}}}}
      ]
    },
    {
      "width": 1198, "height": 903,
      "data": {"name": "vw"},
      "resolve": {"axis": {"y": "independent"}},
      "layer": [
        {"transform": [{"filter": "datum.s == '11:30 UTC'"}], "mark": {"type": "line", "strokeWidth": 9.5, "strokeJoin": "round", "strokeCap": "round"},
         "encoding": {"x": {"field": "v", "type": "quantitative", "scale": {"domain": [-30, 5], "nice": false, "zero": false}, "axis": {"values": [-30, -25, -20, -15, -10, -5, 0, 5], "title": "V Wind (m/s) on 20250803"}}, "y": {"field": "h", "type": "quantitative", "scale": {"domain": [0, 15], "nice": false, "zero": false}, "axis": {"values": [0, 5, 10, 15], "title": "Altitude, AGL km"}}, "order": {"field": "h", "type": "quantitative"},
          "stroke": {"field": "s", "type": "nominal", "scale": {"domain": ["11:30 UTC", "RWP V 11:00 UTC", "23:30 UTC", "RWP V 23:00 UTC"], "range": ["#000000", "#000000", "#FFC77D", "#FFC77D"]}, "legend": {"title": null, "orient": "none", "legendX": 709, "legendY": 655, "padding": 0, "labelOffset": 71, "rowPadding": 11, "symbolSize": 900, "symbolStrokeWidth": 4}}}},
        {"transform": [{"filter": "datum.s == 'RWP V 11:00 UTC'"}], "mark": {"type": "point", "filled": true, "opacity": 1, "size": 900, "strokeWidth": 4},
         "encoding": {"x": {"field": "v", "type": "quantitative", "scale": {"domain": [-30, 5], "nice": false, "zero": false}, "axis": {"values": [-30, -25, -20, -15, -10, -5, 0, 5], "title": "V Wind (m/s) on 20250803"}}, "y": {"field": "h", "type": "quantitative", "scale": {"domain": [0, 15], "nice": false, "zero": false}, "axis": null},
          "stroke": {"field": "s", "type": "nominal", "scale": {"domain": ["11:30 UTC", "RWP V 11:00 UTC", "23:30 UTC", "RWP V 23:00 UTC"], "range": ["#000000", "#000000", "#FFC77D", "#FFC77D"]}, "legend": {"title": null, "orient": "none", "legendX": 709, "legendY": 655, "padding": 0, "labelOffset": 71, "rowPadding": 11, "symbolSize": 900, "symbolStrokeWidth": 4}},
          "fill": {"field": "s", "type": "nominal", "scale": {"domain": ["11:30 UTC", "RWP V 11:00 UTC", "23:30 UTC", "RWP V 23:00 UTC"], "range": ["#000000", "#808080", "#FFC77D", "#FFE0BF"]}, "legend": {"title": null, "orient": "none", "legendX": 709, "legendY": 655, "padding": 0, "labelOffset": 71, "rowPadding": 11, "symbolSize": 900, "symbolStrokeWidth": 4}},
          "shape": {"field": "s", "type": "nominal", "scale": {"domain": ["11:30 UTC", "RWP V 11:00 UTC", "23:30 UTC", "RWP V 23:00 UTC"], "range": ["M-4.8,-0.13H4.8V0.13H-4.8Z", "circle", "M-4.8,-0.13H4.8V0.13H-4.8Z", "circle"]}, "legend": {"title": null, "orient": "none", "legendX": 709, "legendY": 655, "padding": 0, "labelOffset": 71, "rowPadding": 11, "symbolSize": 900, "symbolStrokeWidth": 4}}}},
        {"transform": [{"filter": "datum.s == '23:30 UTC'"}], "mark": {"type": "line", "strokeWidth": 9.5, "strokeJoin": "round", "strokeCap": "round"},
         "encoding": {"x": {"field": "v", "type": "quantitative", "scale": {"domain": [-30, 5], "nice": false, "zero": false}, "axis": {"values": [-30, -25, -20, -15, -10, -5, 0, 5], "title": "V Wind (m/s) on 20250803"}}, "y": {"field": "h", "type": "quantitative", "scale": {"domain": [0, 15], "nice": false, "zero": false}, "axis": {"orient": "right", "labels": false, "ticks": false, "title": null}}, "order": {"field": "h", "type": "quantitative"},
          "stroke": {"field": "s", "type": "nominal", "scale": {"domain": ["11:30 UTC", "RWP V 11:00 UTC", "23:30 UTC", "RWP V 23:00 UTC"], "range": ["#000000", "#000000", "#FFC77D", "#FFC77D"]}, "legend": {"title": null, "orient": "none", "legendX": 709, "legendY": 655, "padding": 0, "labelOffset": 71, "rowPadding": 11, "symbolSize": 900, "symbolStrokeWidth": 4}}}},
        {"transform": [{"filter": "datum.s == 'RWP V 23:00 UTC'"}], "mark": {"type": "point", "filled": true, "opacity": 1, "size": 900, "strokeWidth": 4},
         "encoding": {"x": {"field": "v", "type": "quantitative", "scale": {"domain": [-30, 5], "nice": false, "zero": false}, "axis": {"values": [-30, -25, -20, -15, -10, -5, 0, 5], "title": "V Wind (m/s) on 20250803"}}, "y": {"field": "h", "type": "quantitative", "scale": {"domain": [0, 15], "nice": false, "zero": false}, "axis": null},
          "stroke": {"field": "s", "type": "nominal", "scale": {"domain": ["11:30 UTC", "RWP V 11:00 UTC", "23:30 UTC", "RWP V 23:00 UTC"], "range": ["#000000", "#000000", "#FFC77D", "#FFC77D"]}, "legend": {"title": null, "orient": "none", "legendX": 709, "legendY": 655, "padding": 0, "labelOffset": 71, "rowPadding": 11, "symbolSize": 900, "symbolStrokeWidth": 4}},
          "fill": {"field": "s", "type": "nominal", "scale": {"domain": ["11:30 UTC", "RWP V 11:00 UTC", "23:30 UTC", "RWP V 23:00 UTC"], "range": ["#000000", "#808080", "#FFC77D", "#FFE0BF"]}, "legend": {"title": null, "orient": "none", "legendX": 709, "legendY": 655, "padding": 0, "labelOffset": 71, "rowPadding": 11, "symbolSize": 900, "symbolStrokeWidth": 4}},
          "shape": {"field": "s", "type": "nominal", "scale": {"domain": ["11:30 UTC", "RWP V 11:00 UTC", "23:30 UTC", "RWP V 23:00 UTC"], "range": ["M-4.8,-0.13H4.8V0.13H-4.8Z", "circle", "M-4.8,-0.13H4.8V0.13H-4.8Z", "circle"]}, "legend": {"title": null, "orient": "none", "legendX": 709, "legendY": 655, "padding": 0, "labelOffset": 71, "rowPadding": 11, "symbolSize": 900, "symbolStrokeWidth": 4}}}}
      ]
    },
    {
      "width": 1198, "height": 903,
      "data": {"name": "t"},
      "resolve": {"axis": {"y": "independent"}},
      "layer": [
        {"transform": [{"filter": "datum.s == '11:30 UTC'"}], "mark": {"type": "line", "strokeWidth": 9.5, "strokeJoin": "round", "strokeCap": "round"},
         "encoding": {"x": {"field": "v", "type": "quantitative", "scale": {"domain": [-62, 12.9], "nice": false, "zero": false}, "axis": {"values": [-60, -40, -20, 0], "title": "Temperature (ᴼC) on 20250803", "titlePadding": 32}}, "y": {"field": "h", "type": "quantitative", "scale": {"domain": [0, 15], "nice": false, "zero": false}, "axis": {"values": [0, 5, 10, 15], "title": "Altitude, AGL km"}}, "order": {"field": "h", "type": "quantitative"},
          "stroke": {"field": "s", "type": "nominal", "scale": {"domain": ["11:30 UTC", "23:30 UTC"], "range": ["#000000", "#FFC77D"]}, "legend": {"title": null, "orient": "none", "legendX": 779, "legendY": 34, "padding": 0, "labelOffset": 71, "rowPadding": 11, "symbolSize": 900, "symbolStrokeWidth": 4}}}},
        {"transform": [{"filter": "datum.s == 'none'"}], "mark": {"type": "point", "filled": true, "opacity": 1, "size": 900, "strokeWidth": 4},
         "encoding": {"x": {"field": "v", "type": "quantitative", "scale": {"domain": [-62, 12.9], "nice": false, "zero": false}, "axis": {"values": [-60, -40, -20, 0], "title": "Temperature (ᴼC) on 20250803", "titlePadding": 32}}, "y": {"field": "h", "type": "quantitative", "scale": {"domain": [0, 15], "nice": false, "zero": false}, "axis": null},
          "stroke": {"field": "s", "type": "nominal", "scale": {"domain": ["11:30 UTC", "23:30 UTC"], "range": ["#000000", "#FFC77D"]}, "legend": {"title": null, "orient": "none", "legendX": 779, "legendY": 34, "padding": 0, "labelOffset": 71, "rowPadding": 11, "symbolSize": 900, "symbolStrokeWidth": 4}},
          "fill": {"field": "s", "type": "nominal", "scale": {"domain": ["11:30 UTC", "23:30 UTC"], "range": ["#000000", "#FFC77D"]}, "legend": {"title": null, "orient": "none", "legendX": 779, "legendY": 34, "padding": 0, "labelOffset": 71, "rowPadding": 11, "symbolSize": 900, "symbolStrokeWidth": 4}},
          "shape": {"field": "s", "type": "nominal", "scale": {"domain": ["11:30 UTC", "23:30 UTC"], "range": ["M-4.8,-0.13H4.8V0.13H-4.8Z", "M-4.8,-0.13H4.8V0.13H-4.8Z"]}, "legend": {"title": null, "orient": "none", "legendX": 779, "legendY": 34, "padding": 0, "labelOffset": 71, "rowPadding": 11, "symbolSize": 900, "symbolStrokeWidth": 4}}}},
        {"transform": [{"filter": "datum.s == '23:30 UTC'"}], "mark": {"type": "line", "strokeWidth": 9.5, "strokeJoin": "round", "strokeCap": "round"},
         "encoding": {"x": {"field": "v", "type": "quantitative", "scale": {"domain": [-62, 12.9], "nice": false, "zero": false}, "axis": {"values": [-60, -40, -20, 0], "title": "Temperature (ᴼC) on 20250803", "titlePadding": 32}}, "y": {"field": "h", "type": "quantitative", "scale": {"domain": [0, 15], "nice": false, "zero": false}, "axis": {"orient": "right", "labels": false, "ticks": false, "title": null}}, "order": {"field": "h", "type": "quantitative"},
          "stroke": {"field": "s", "type": "nominal", "scale": {"domain": ["11:30 UTC", "23:30 UTC"], "range": ["#000000", "#FFC77D"]}, "legend": {"title": null, "orient": "none", "legendX": 779, "legendY": 34, "padding": 0, "labelOffset": 71, "rowPadding": 11, "symbolSize": 900, "symbolStrokeWidth": 4}}}}
      ]
    },
    {
      "width": 1198, "height": 903,
      "data": {"name": "rh"},
      "resolve": {"axis": {"y": "independent"}},
      "layer": [
        {"transform": [{"filter": "datum.s == '11:30 UTC'"}], "mark": {"type": "line", "strokeWidth": 9.5, "strokeJoin": "round", "strokeCap": "round"},
         "encoding": {"x": {"field": "v", "type": "quantitative", "scale": {"domain": [0, 94.1], "nice": false, "zero": false}, "axis": {"values": [0, 20, 40, 60, 80], "title": "Relative Humidity (%) on 20250803"}}, "y": {"field": "h", "type": "quantitative", "scale": {"domain": [0, 15], "nice": false, "zero": false}, "axis": {"values": [0, 5, 10, 15], "title": "Altitude, AGL km"}}, "order": {"field": "h", "type": "quantitative"},
          "stroke": {"field": "s", "type": "nominal", "scale": {"domain": ["11:30 UTC", "23:30 UTC"], "range": ["#000000", "#FFC77D"]}, "legend": {"title": null, "orient": "none", "legendX": 780, "legendY": 34, "padding": 0, "labelOffset": 71, "rowPadding": 11, "symbolSize": 900, "symbolStrokeWidth": 4}}}},
        {"transform": [{"filter": "datum.s == 'none'"}], "mark": {"type": "point", "filled": true, "opacity": 1, "size": 900, "strokeWidth": 4},
         "encoding": {"x": {"field": "v", "type": "quantitative", "scale": {"domain": [0, 94.1], "nice": false, "zero": false}, "axis": {"values": [0, 20, 40, 60, 80], "title": "Relative Humidity (%) on 20250803"}}, "y": {"field": "h", "type": "quantitative", "scale": {"domain": [0, 15], "nice": false, "zero": false}, "axis": null},
          "stroke": {"field": "s", "type": "nominal", "scale": {"domain": ["11:30 UTC", "23:30 UTC"], "range": ["#000000", "#FFC77D"]}, "legend": {"title": null, "orient": "none", "legendX": 780, "legendY": 34, "padding": 0, "labelOffset": 71, "rowPadding": 11, "symbolSize": 900, "symbolStrokeWidth": 4}},
          "fill": {"field": "s", "type": "nominal", "scale": {"domain": ["11:30 UTC", "23:30 UTC"], "range": ["#000000", "#FFC77D"]}, "legend": {"title": null, "orient": "none", "legendX": 780, "legendY": 34, "padding": 0, "labelOffset": 71, "rowPadding": 11, "symbolSize": 900, "symbolStrokeWidth": 4}},
          "shape": {"field": "s", "type": "nominal", "scale": {"domain": ["11:30 UTC", "23:30 UTC"], "range": ["M-4.8,-0.13H4.8V0.13H-4.8Z", "M-4.8,-0.13H4.8V0.13H-4.8Z"]}, "legend": {"title": null, "orient": "none", "legendX": 780, "legendY": 34, "padding": 0, "labelOffset": 71, "rowPadding": 11, "symbolSize": 900, "symbolStrokeWidth": 4}}}},
        {"transform": [{"filter": "datum.s == '23:30 UTC'"}], "mark": {"type": "line", "strokeWidth": 9.5, "strokeJoin": "round", "strokeCap": "round"},
         "encoding": {"x": {"field": "v", "type": "quantitative", "scale": {"domain": [0, 94.1], "nice": false, "zero": false}, "axis": {"values": [0, 20, 40, 60, 80], "title": "Relative Humidity (%) on 20250803"}}, "y": {"field": "h", "type": "quantitative", "scale": {"domain": [0, 15], "nice": false, "zero": false}, "axis": {"orient": "right", "labels": false, "ticks": false, "title": null}}, "order": {"field": "h", "type": "quantitative"},
          "stroke": {"field": "s", "type": "nominal", "scale": {"domain": ["11:30 UTC", "23:30 UTC"], "range": ["#000000", "#FFC77D"]}, "legend": {"title": null, "orient": "none", "legendX": 780, "legendY": 34, "padding": 0, "labelOffset": 71, "rowPadding": 11, "symbolSize": 900, "symbolStrokeWidth": 4}}}}
      ]
    }
  ]
}
